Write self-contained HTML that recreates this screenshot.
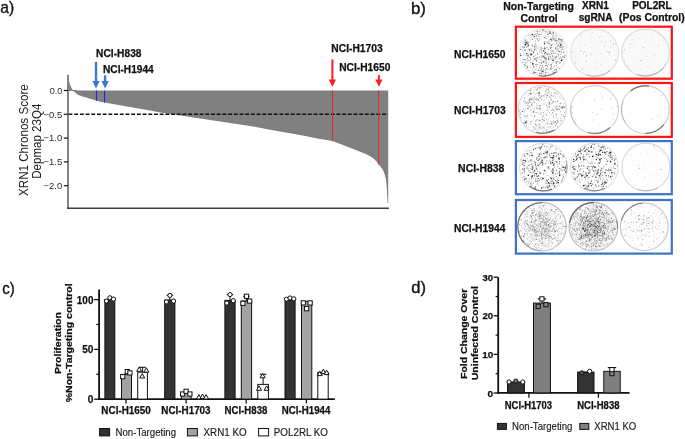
<!DOCTYPE html>
<html><head><meta charset="utf-8"><style>
html,body{margin:0;padding:0;background:#fff;width:685px;height:439px;overflow:hidden}
svg{display:block;will-change:transform;filter:blur(0.3px);font-family:"Liberation Sans",sans-serif}
</style></head><body>
<svg width="685" height="439" viewBox="0 0 685 439">
<rect width="685" height="439" fill="#fff"/>
<text x="0.20" y="13.4" font-size="16.6" font-weight="normal" fill="#111" textLength="13.91" lengthAdjust="spacingAndGlyphs" stroke="#111" stroke-width="0.35">a)</text>
<text x="411.01" y="13.6" font-size="16.6" font-weight="normal" fill="#111" textLength="14.98" lengthAdjust="spacingAndGlyphs" stroke="#111" stroke-width="0.35">b)</text>
<text x="2.32" y="293.8" font-size="16.6" font-weight="normal" fill="#111" textLength="12.52" lengthAdjust="spacingAndGlyphs" stroke="#111" stroke-width="0.35">c)</text>
<text x="411.24" y="292.9" font-size="16.6" font-weight="normal" fill="#111" textLength="14.73" lengthAdjust="spacingAndGlyphs" stroke="#111" stroke-width="0.35">d)</text>
<polygon points="68.9,90.5 68.9,80.8 69.8,83.5 70.8,86.6 72.0,88.9 72.9,90.1 73.4,90.6 74.6,91.9 76.3,93.5 78.5,95.0 81.1,96.0 84.0,96.9 86.6,97.6 89.3,98.5 92.7,99.6 96.5,100.8 100.0,101.7 104.5,102.6 110.0,103.6 120.0,105.2 130.0,106.9 140.0,108.7 150.0,110.6 160.0,112.4 170.0,113.9 180.0,115.6 190.0,117.0 200.0,118.6 210.0,120.1 220.0,121.5 230.0,122.9 240.0,124.4 250.0,126.0 260.0,127.8 270.0,129.7 280.0,131.4 290.0,133.2 300.0,135.1 310.0,137.1 320.0,138.9 332.5,141.1 342.3,144.8 354.6,149.5 362.0,152.4 366.9,154.5 371.0,156.8 374.1,159.0 376.5,161.5 378.6,164.4 380.5,166.5 382.3,169.0 383.8,171.8 385.0,175.4 385.8,178.5 386.4,183.6 386.9,190.0 387.3,198.0 387.6,203.5 388.2,203.5 388.2,90.5" fill="#808080"/>
<rect x="68.9" y="90.0" width="8" height="1.0" fill="#808080"/>
<line x1="68.5" y1="114.3" x2="388" y2="114.3" stroke="#111" stroke-width="1.6" stroke-dasharray="3.9 1.8"/>
<line x1="96.5" y1="90.5" x2="96.5" y2="100.8" stroke="#2424e6" stroke-width="1.1"/>
<line x1="104.5" y1="90.5" x2="104.5" y2="102.6" stroke="#2424e6" stroke-width="1.1"/>
<line x1="332.5" y1="90.5" x2="332.5" y2="141.1" stroke="#e42a2a" stroke-width="1.1"/>
<line x1="378.6" y1="90.5" x2="378.6" y2="164.4" stroke="#e42a2a" stroke-width="1.1"/>
<line x1="68" y1="74.7" x2="68" y2="209" stroke="#6e6e6e" stroke-width="1.7"/>
<line x1="67.2" y1="208.3" x2="388.8" y2="208.3" stroke="#3c3c3c" stroke-width="1.6"/>
<line x1="63.8" y1="90.5" x2="68" y2="90.5" stroke="#111" stroke-width="1.2"/>
<text x="49.64" y="93.7" font-size="9.2" font-weight="normal" fill="#2a2a2a" textLength="12.52" lengthAdjust="spacingAndGlyphs">0.0</text>
<line x1="63.8" y1="114.3" x2="68" y2="114.3" stroke="#111" stroke-width="1.2"/>
<text x="43.43" y="117.5" font-size="9.2" font-weight="normal" fill="#2a2a2a" textLength="18.75" lengthAdjust="spacingAndGlyphs">−0.5</text>
<line x1="63.8" y1="138.1" x2="68" y2="138.1" stroke="#111" stroke-width="1.2"/>
<text x="43.43" y="141.3" font-size="9.2" font-weight="normal" fill="#2a2a2a" textLength="18.75" lengthAdjust="spacingAndGlyphs">−1.0</text>
<line x1="63.8" y1="161.9" x2="68" y2="161.9" stroke="#111" stroke-width="1.2"/>
<text x="43.43" y="165.1" font-size="9.2" font-weight="normal" fill="#2a2a2a" textLength="18.75" lengthAdjust="spacingAndGlyphs">−1.5</text>
<line x1="63.8" y1="185.7" x2="68" y2="185.7" stroke="#111" stroke-width="1.2"/>
<text x="43.43" y="188.9" font-size="9.2" font-weight="normal" fill="#2a2a2a" textLength="18.75" lengthAdjust="spacingAndGlyphs">−2.0</text>
<text transform="translate(27.8,195.99) rotate(-90)" font-size="12.6" font-weight="normal" fill="#1a1a1a" textLength="111.72" lengthAdjust="spacingAndGlyphs">XRN1 Chronos Score</text>
<text transform="translate(40.9,178.72) rotate(-90)" font-size="12.6" font-weight="normal" fill="#1a1a1a" textLength="75.06" lengthAdjust="spacingAndGlyphs">Depmap 23Q4</text>
<rect x="94.80" y="61.9" width="2.4" height="19.60" fill="#3a7ad4"/>
<polygon points="92.30,81.0 99.70,81.0 96.00,88.6" fill="#3a7ad4"/>
<rect x="103.90" y="75.3" width="2.4" height="6.20" fill="#3a7ad4"/>
<polygon points="101.40,81.0 108.80,81.0 105.10,88.6" fill="#3a7ad4"/>
<rect x="331.40" y="59.5" width="2.0" height="20.40" fill="#ff1e1e"/>
<polygon points="328.70,79.4 336.10,79.4 332.40,86.8" fill="#ff1e1e"/>
<rect x="377.90" y="75.1" width="2.0" height="4.80" fill="#ff1e1e"/>
<polygon points="375.20,79.4 382.60,79.4 378.90,86.8" fill="#ff1e1e"/>
<text x="96.14" y="57.4" font-size="10.1" font-weight="bold" fill="#111" textLength="45.38" lengthAdjust="spacingAndGlyphs" stroke="#111" stroke-width="0.25">NCI-H838</text>
<text x="103.04" y="73.0" font-size="10.1" font-weight="bold" fill="#111" textLength="50.63" lengthAdjust="spacingAndGlyphs" stroke="#111" stroke-width="0.25">NCI-H1944</text>
<text x="331.33" y="51.6" font-size="10.1" font-weight="bold" fill="#111" textLength="51.35" lengthAdjust="spacingAndGlyphs" stroke="#111" stroke-width="0.25">NCI-H1703</text>
<text x="339.24" y="71.1" font-size="10.1" font-weight="bold" fill="#111" textLength="51.09" lengthAdjust="spacingAndGlyphs" stroke="#111" stroke-width="0.25">NCI-H1650</text>
<text x="503.32" y="10.0" font-size="10.3" font-weight="bold" fill="#111" textLength="70.44" lengthAdjust="spacingAndGlyphs" stroke="#111" stroke-width="0.25">Non-Targeting</text>
<text x="520.48" y="21.7" font-size="10.3" font-weight="bold" fill="#111" textLength="37.30" lengthAdjust="spacingAndGlyphs" stroke="#111" stroke-width="0.25">Control</text>
<text x="582.10" y="8.9" font-size="10.3" font-weight="bold" fill="#111" textLength="26.88" lengthAdjust="spacingAndGlyphs" stroke="#111" stroke-width="0.25">XRN1</text>
<text x="578.64" y="20.9" font-size="10.3" font-weight="bold" fill="#111" textLength="33.95" lengthAdjust="spacingAndGlyphs" stroke="#111" stroke-width="0.25">sgRNA</text>
<text x="632.15" y="8.9" font-size="10.3" font-weight="bold" fill="#111" textLength="39.55" lengthAdjust="spacingAndGlyphs" stroke="#111" stroke-width="0.25">POL2RL</text>
<text x="619.08" y="20.9" font-size="10.3" font-weight="bold" fill="#111" textLength="65.61" lengthAdjust="spacingAndGlyphs" stroke="#111" stroke-width="0.25">(Pos Control)</text>
<text x="454.03" y="57.8" font-size="10.2" font-weight="bold" fill="#111" textLength="51.50" lengthAdjust="spacingAndGlyphs" stroke="#111" stroke-width="0.25">NCI-H1650</text>
<text x="454.03" y="114.1" font-size="10.2" font-weight="bold" fill="#111" textLength="51.65" lengthAdjust="spacingAndGlyphs" stroke="#111" stroke-width="0.25">NCI-H1703</text>
<text x="458.12" y="171.6" font-size="10.2" font-weight="bold" fill="#111" textLength="46.30" lengthAdjust="spacingAndGlyphs" stroke="#111" stroke-width="0.25">NCI-H838</text>
<text x="454.03" y="232.3" font-size="10.2" font-weight="bold" fill="#111" textLength="51.34" lengthAdjust="spacingAndGlyphs" stroke="#111" stroke-width="0.25">NCI-H1944</text>
<defs><filter id="bl" x="-10%" y="-10%" width="120%" height="120%"><feGaussianBlur stdDeviation="0.35"/></filter><filter id="bl2" x="-10%" y="-10%" width="120%" height="120%"><feGaussianBlur stdDeviation="0.6"/></filter></defs>
<circle cx="563.3" cy="115.6" r="1.4" fill="#111" filter="url(#bl)"/>
<circle cx="543.2" cy="52.6" r="23.8" fill="rgb(252,252,252)" stroke="rgba(0,0,0,0.08)" stroke-width="1.2"/>
<g filter="url(#bl2)"><path d="M556.68,71.85 A23.5,23.5 0 0 1 539.12,75.74" fill="none" stroke="rgba(0,0,0,0.5)" stroke-width="1.2" stroke-linecap="round"/></g>
<g filter="url(#bl)" stroke="#000" stroke-linecap="round" fill="none"><path d="M545.3 63.4h0M530.9 71.7h0M542.6 71.9h0M523.4 59.6h0M536.4 70.5h0" stroke-width="0.40" stroke-opacity="0.2"/><path d="M546.5 41.8h0M523.2 50.0h0M560.1 59.2h0M532.0 70.1h0M552.6 57.9h0M555.2 70.1h0M553.3 60.6h0M534.4 56.6h0M564.8 48.6h0M530.7 37.4h0M547.6 33.2h0M547.9 42.7h0M529.0 35.1h0M549.7 54.0h0M543.6 67.5h0M553.8 33.7h0M533.2 72.0h0M536.3 50.2h0M553.3 37.4h0M554.7 44.1h0M541.7 63.9h0M527.4 57.9h0M551.5 62.9h0M524.4 42.6h0M540.1 46.3h0M530.5 35.9h0M542.0 36.8h0M555.2 58.6h0M527.2 39.8h0M560.2 57.6h0M547.4 31.9h0M565.0 57.1h0M537.1 70.1h0M560.4 47.6h0M545.0 52.4h0M549.6 43.7h0M546.8 73.2h0M537.2 58.8h0M525.8 42.3h0M559.0 62.3h0M554.9 57.5h0M543.7 48.4h0M548.5 73.7h0M528.2 48.7h0M547.4 54.8h0M555.0 40.6h0" stroke-width="0.40" stroke-opacity="0.4"/><path d="M558.6 67.2h0M547.0 53.7h0M528.0 46.4h0M537.9 70.5h0M562.2 44.0h0M558.5 44.8h0M544.9 60.0h0M542.1 71.2h0M528.4 44.6h0M548.7 42.4h0M540.9 62.7h0M552.7 60.3h0M560.0 45.6h0M535.1 31.9h0M522.6 49.6h0M552.4 51.0h0M524.6 40.7h0M524.2 62.4h0M562.6 42.3h0M559.1 46.9h0M526.5 49.9h0M560.7 39.1h0M555.7 34.5h0M539.8 37.0h0M540.7 75.0h0M525.5 49.5h0M545.3 61.9h0M541.0 70.2h0M562.7 41.8h0M555.9 41.1h0M544.5 73.1h0M535.0 47.7h0M544.1 42.4h0M557.5 67.7h0M557.6 46.3h0M549.0 30.5h0M556.2 39.3h0M538.0 47.4h0M536.5 38.3h0M551.1 52.1h0M539.4 65.9h0M552.0 59.2h0M537.3 60.8h0M545.5 58.1h0M527.5 46.1h0M534.2 50.2h0M533.7 53.2h0M541.6 49.7h0M536.3 50.9h0M555.6 44.9h0M521.3 47.3h0M550.7 54.7h0M541.1 60.5h0M543.2 74.0h0M555.7 53.0h0" stroke-width="0.40" stroke-opacity="0.6"/><path d="M533.8 52.5h0M554.1 38.8h0M551.1 39.2h0M542.2 53.5h0M543.0 72.4h0M546.0 60.4h0M562.3 40.3h0M565.6 55.7h0M554.0 56.7h0M540.1 59.4h0M557.0 43.0h0M528.1 45.9h0M550.4 64.2h0M541.4 34.2h0M533.8 37.7h0M524.4 49.9h0M539.6 70.1h0M555.9 52.0h0" stroke-width="0.40" stroke-opacity="0.8"/><path d="M561.3 39.7h0M533.5 34.0h0M543.0 67.3h0M550.5 48.0h0M535.7 41.3h0M556.1 41.2h0M539.4 30.5h0M550.5 48.8h0M543.3 67.5h0M551.9 33.9h0M532.3 51.0h0" stroke-width="0.70" stroke-opacity="0.2"/><path d="M558.8 46.3h0M532.5 39.3h0M546.4 57.7h0M546.9 65.5h0M532.5 69.7h0M542.0 50.4h0M564.0 57.9h0M539.7 57.1h0M539.7 74.2h0M536.8 47.9h0M543.3 65.0h0M528.7 45.5h0M530.0 65.4h0M551.2 34.2h0M522.7 46.7h0M553.1 60.4h0M528.8 53.1h0M556.6 35.3h0M523.9 41.3h0M558.6 50.6h0M557.5 43.1h0M524.5 64.8h0M561.4 52.0h0M538.4 58.8h0M525.3 41.3h0M564.7 51.5h0M522.4 46.6h0M553.8 66.9h0M536.4 36.9h0M558.7 61.7h0M547.3 54.8h0M548.2 53.6h0M529.0 35.7h0M539.7 31.9h0M550.9 47.9h0M558.4 56.3h0M534.7 52.2h0M553.3 71.6h0M552.7 71.2h0M554.1 61.5h0M548.7 34.8h0M553.6 32.6h0M531.4 55.0h0M523.3 47.8h0M544.6 46.4h0M534.9 60.2h0M563.9 48.3h0M550.5 47.7h0M536.0 68.6h0M560.5 56.8h0M541.9 59.1h0M535.4 55.6h0M541.7 56.1h0M530.9 53.3h0M542.2 32.8h0M531.9 45.5h0M530.9 39.5h0M527.8 43.7h0M542.9 31.3h0M554.9 37.0h0M534.9 67.1h0M531.4 48.7h0M550.6 50.3h0M543.9 30.6h0M548.8 74.3h0M527.5 51.4h0M544.9 58.6h0M556.3 56.8h0M542.0 55.4h0M554.5 65.5h0M529.5 60.6h0M542.9 73.5h0M529.7 41.7h0M532.2 46.5h0M526.4 59.7h0M541.2 60.6h0M535.7 36.8h0M549.1 46.0h0M556.6 62.1h0M543.2 37.2h0M538.1 48.4h0M549.1 62.1h0M546.7 53.8h0M525.9 55.4h0" stroke-width="0.70" stroke-opacity="0.4"/><path d="M545.0 31.6h0M538.3 36.4h0M523.9 43.5h0M558.4 55.3h0M552.0 59.8h0M536.5 66.5h0M545.0 55.0h0M546.0 68.8h0M536.8 31.0h0M551.2 47.6h0M560.2 47.6h0M556.0 61.9h0M545.5 52.3h0M553.1 58.1h0M537.3 38.7h0M534.0 58.3h0M554.7 70.6h0M550.9 68.0h0M540.9 50.2h0M546.2 38.5h0M553.5 33.8h0M558.9 40.9h0M545.2 70.3h0M530.8 67.4h0M533.4 67.6h0M552.8 62.9h0M558.5 51.5h0M537.0 64.7h0M556.0 47.7h0M551.2 41.3h0M563.8 52.4h0M552.7 44.4h0M531.6 51.6h0M541.5 63.4h0M541.2 71.5h0M558.8 58.6h0M548.4 58.9h0M543.2 61.1h0M535.3 41.1h0M527.7 66.8h0M524.7 64.6h0M561.7 52.1h0M532.5 63.2h0M547.2 34.5h0M545.5 36.7h0M559.9 42.4h0M537.2 34.1h0M543.4 69.3h0M532.4 39.3h0M560.8 51.1h0M537.4 39.7h0M529.1 70.4h0M546.2 63.5h0M557.8 48.5h0M527.4 43.5h0M560.4 62.7h0M530.1 58.0h0M544.2 42.9h0M555.2 40.5h0M551.2 45.8h0M542.1 57.2h0M558.5 39.2h0M555.1 40.2h0M550.6 56.6h0M556.5 49.4h0M537.0 74.0h0M536.6 61.0h0M562.3 57.3h0M559.8 43.1h0M559.8 58.2h0M528.8 56.5h0M562.9 59.6h0M540.2 34.6h0M522.7 62.1h0M527.2 44.6h0M539.4 50.0h0M527.2 62.2h0M553.2 33.5h0M523.3 59.6h0M556.3 63.7h0M525.7 45.3h0M562.8 56.9h0M533.9 71.7h0M563.4 52.8h0M554.8 69.2h0M544.5 49.0h0M549.1 54.3h0M537.0 33.3h0M547.1 52.9h0M564.8 55.7h0M551.0 57.4h0" stroke-width="0.70" stroke-opacity="0.6"/><path d="M553.9 39.7h0M530.7 59.4h0M535.0 46.2h0M546.3 69.2h0M547.3 54.6h0M544.8 43.2h0M551.6 66.7h0M541.2 70.6h0M550.9 65.5h0M548.0 34.3h0M545.5 65.5h0M542.0 48.5h0M532.3 45.3h0M525.5 65.5h0M532.5 64.0h0M546.8 47.6h0M526.6 47.2h0M558.7 44.9h0M544.9 41.6h0M547.5 66.2h0M557.4 61.4h0M563.0 47.1h0M537.5 31.6h0M536.7 60.4h0M546.1 65.3h0M546.2 58.1h0M561.6 47.8h0M561.8 41.8h0M529.9 57.6h0M547.3 42.5h0M549.0 41.1h0M534.7 46.9h0M539.7 38.9h0M551.9 40.4h0M528.2 60.6h0M541.8 62.8h0M520.7 53.7h0M546.6 62.0h0M551.4 39.2h0M530.8 62.4h0" stroke-width="0.70" stroke-opacity="0.8"/><path d="M560.1 63.9h0M549.8 56.8h0M538.7 40.9h0M539.0 31.5h0" stroke-width="1.00" stroke-opacity="0.2"/><path d="M545.1 48.6h0M560.4 40.0h0M537.9 64.5h0M543.3 55.9h0M551.1 45.8h0M563.8 56.6h0M531.7 50.7h0M544.6 47.9h0M535.6 34.4h0M539.8 57.1h0M539.7 52.1h0M531.2 35.8h0M561.7 58.6h0M526.9 53.9h0M523.6 54.9h0M556.7 43.5h0M554.3 53.5h0M560.4 54.2h0M550.8 59.3h0M549.4 70.0h0M557.7 54.1h0M547.1 72.1h0M556.8 65.3h0M558.1 38.1h0M558.8 54.3h0M555.8 38.7h0M554.9 38.3h0M559.5 68.5h0M548.8 64.5h0M546.7 31.1h0M548.3 36.3h0M550.1 55.0h0M529.2 49.4h0M535.3 70.1h0M527.9 46.0h0M546.0 32.2h0M557.5 50.0h0M556.2 36.1h0M524.0 59.4h0M534.9 46.0h0M541.0 47.2h0" stroke-width="1.00" stroke-opacity="0.4"/><path d="M544.4 37.6h0M533.3 56.7h0M556.2 40.8h0M541.3 68.0h0M543.6 50.9h0M530.1 49.4h0M538.6 70.2h0M553.2 39.1h0M541.3 52.2h0M538.7 40.7h0M541.0 47.9h0M544.6 44.2h0M526.4 53.6h0M529.8 50.2h0M536.3 46.1h0M527.6 55.9h0M550.8 48.0h0M527.6 58.4h0M529.4 50.8h0M535.3 44.0h0M531.2 54.1h0M534.2 34.4h0M537.6 57.5h0M535.1 49.0h0M539.3 67.7h0M539.5 73.4h0M541.2 73.2h0M562.8 46.5h0M528.1 55.4h0M560.3 44.0h0M554.1 59.2h0M527.1 66.5h0M551.9 68.8h0M539.1 62.7h0M552.3 37.9h0M550.8 39.3h0M553.6 72.5h0M553.1 51.1h0M557.4 46.0h0M540.8 65.3h0M534.5 59.1h0M551.5 64.6h0M543.7 29.9h0M555.6 57.9h0M520.7 49.4h0M525.7 62.9h0M541.2 69.2h0M536.3 35.7h0M556.1 62.9h0M557.1 40.6h0M544.9 57.1h0" stroke-width="1.00" stroke-opacity="0.6"/><path d="M549.2 33.1h0M535.8 72.7h0M548.1 49.6h0M539.0 34.6h0M546.0 59.3h0M550.3 33.5h0M553.0 35.8h0M533.7 66.3h0M550.6 68.7h0M549.0 43.7h0M544.7 43.6h0M534.6 36.5h0M544.3 57.3h0M561.7 60.5h0M559.3 51.6h0M553.1 32.3h0M552.7 56.0h0M545.2 58.5h0M542.3 29.9h0M544.7 53.7h0M548.6 59.6h0M562.1 49.4h0M527.1 53.7h0M525.1 60.0h0M548.8 57.0h0M537.6 54.0h0M541.2 73.6h0M545.8 72.7h0M528.0 42.3h0M527.0 41.8h0" stroke-width="1.00" stroke-opacity="0.8"/><path d="M528.5 55.0h0" stroke-width="1.30" stroke-opacity="0.2"/><path d="M535.8 64.3h0M542.5 65.9h0M564.4 57.4h0M559.4 63.1h0M555.5 48.5h0M525.1 50.4h0M555.4 48.0h0M552.1 50.9h0M547.8 68.9h0M551.7 53.5h0M553.3 53.1h0" stroke-width="1.30" stroke-opacity="0.4"/><path d="M550.4 39.6h0M545.4 75.2h0M550.4 32.1h0M528.5 45.0h0M525.6 40.1h0M525.6 42.3h0M545.3 52.5h0M534.6 72.4h0M551.1 44.9h0M533.5 52.0h0M549.7 31.9h0M534.4 49.6h0" stroke-width="1.30" stroke-opacity="0.6"/><path d="M524.2 47.1h0M520.8 55.5h0M531.8 54.1h0M556.2 69.6h0M556.2 56.8h0M525.3 44.5h0M533.3 73.1h0M553.0 60.4h0M561.3 39.8h0M559.2 39.1h0" stroke-width="1.30" stroke-opacity="0.8"/><path d="M533.9 36.1h0" stroke-width="1.60" stroke-opacity="0.2"/><path d="M527.5 67.7h0M560.3 45.9h0M548.7 58.7h0M545.2 48.4h0" stroke-width="1.60" stroke-opacity="0.4"/><path d="M543.7 61.9h0M543.8 51.0h0M543.1 56.7h0M535.9 58.8h0" stroke-width="1.60" stroke-opacity="0.6"/><path d="M542.9 71.3h0M525.5 44.8h0M560.9 44.9h0M532.2 34.6h0M561.6 60.4h0M530.9 54.6h0M532.9 63.9h0M526.4 43.0h0" stroke-width="1.60" stroke-opacity="0.8"/></g>
<circle cx="594.6" cy="52.6" r="24.0" fill="rgb(249,249,249)" stroke="rgba(0,0,0,0.1)" stroke-width="1.2"/>
<g filter="url(#bl2)"><path d="M609.83,70.76 A23.7,23.7 0 0 1 586.49,74.87" fill="none" stroke="rgba(0,0,0,0.22)" stroke-width="1.0" stroke-linecap="round"/></g>
<g filter="url(#bl)" stroke="#000" stroke-linecap="round" fill="none"><path d="M597.4 68.4h0M575.2 52.1h0M591.4 48.0h0M611.5 65.9h0M603.3 54.6h0M584.3 58.0h0M576.6 60.6h0M590.1 55.2h0M581.5 60.8h0M601.7 71.3h0M605.0 62.6h0M589.3 42.9h0" stroke-width="0.40" stroke-opacity="0.2"/><path d="M586.3 56.5h0M580.4 46.1h0M594.5 68.0h0M588.8 67.2h0M610.7 47.4h0" stroke-width="0.40" stroke-opacity="0.4"/><path d="M575.7 57.3h0M597.3 46.9h0M614.1 55.2h0M598.3 61.0h0M609.6 65.6h0M575.5 55.9h0M591.2 32.6h0M599.3 37.7h0M608.5 70.9h0M580.9 34.2h0M591.0 36.4h0M578.2 54.4h0" stroke-width="0.70" stroke-opacity="0.2"/><path d="M590.9 53.4h0M592.6 32.1h0M572.4 52.5h0M584.1 51.8h0M575.5 62.7h0M601.1 64.8h0M610.8 41.2h0M600.0 53.7h0M615.5 43.4h0M580.8 50.9h0M606.9 51.3h0M601.5 41.9h0M586.0 61.4h0M583.5 53.4h0" stroke-width="0.70" stroke-opacity="0.4"/><path d="M584.5 44.7h0M578.6 58.4h0M596.1 69.8h0M586.1 52.1h0M604.7 46.3h0M605.5 41.7h0M580.2 51.3h0M591.0 55.0h0M595.7 62.4h0M581.2 36.1h0M601.9 36.5h0" stroke-width="1.00" stroke-opacity="0.2"/><path d="M615.6 60.4h0M613.4 44.0h0M586.4 55.8h0" stroke-width="1.00" stroke-opacity="0.4"/><path d="M609.4 54.3h0" stroke-width="1.30" stroke-opacity="0.2"/><path d="M609.2 52.2h0" stroke-width="1.30" stroke-opacity="0.4"/><path d="M582.2 68.9h0" stroke-width="1.60" stroke-opacity="0.2"/></g>
<circle cx="645.5" cy="52.6" r="23.8" fill="rgb(249,249,249)" stroke="rgba(0,0,0,0.12)" stroke-width="1.2"/>
<g filter="url(#bl2)"><path d="M663.50,67.71 A23.5,23.5 0 0 1 637.46,74.68" fill="none" stroke="rgba(0,0,0,0.25)" stroke-width="1.0" stroke-linecap="round"/></g>
<g filter="url(#bl)" stroke="#000" stroke-linecap="round" fill="none"><path d="M634.0 64.9h0M644.3 73.5h0M653.6 39.2h0M645.8 46.8h0M650.2 58.0h0M650.7 43.5h0M644.5 47.9h0M631.9 56.1h0M629.1 46.2h0M647.0 71.9h0M649.8 62.9h0M642.3 59.2h0M647.4 65.8h0" stroke-width="0.40" stroke-opacity="0.2"/><path d="M642.4 37.2h0M638.8 38.5h0" stroke-width="0.40" stroke-opacity="0.4"/><path d="M634.9 41.8h0M664.0 40.0h0M643.1 61.1h0M646.8 56.4h0M633.4 39.4h0M632.6 44.1h0M642.1 51.0h0M651.8 35.4h0M638.7 62.4h0M645.2 41.8h0" stroke-width="0.70" stroke-opacity="0.2"/><path d="M624.4 49.5h0M628.2 66.0h0M664.8 64.6h0M654.2 55.0h0M658.3 45.6h0M624.7 61.7h0" stroke-width="0.70" stroke-opacity="0.4"/><path d="M659.1 35.3h0M622.9 51.8h0M629.8 47.7h0M640.0 69.4h0M647.9 67.8h0M654.0 71.7h0" stroke-width="1.00" stroke-opacity="0.2"/><path d="M630.4 43.8h0M643.0 47.6h0M640.6 60.6h0" stroke-width="1.00" stroke-opacity="0.4"/></g>
<circle cx="542.3" cy="109.6" r="24.0" fill="rgb(252,252,252)" stroke="rgba(0,0,0,0.14)" stroke-width="1.2"/>
<g filter="url(#bl2)"><path d="M554.15,130.12 A23.7,23.7 0 0 1 536.17,132.49" fill="none" stroke="rgba(0,0,0,0.45)" stroke-width="1.3" stroke-linecap="round"/></g>
<g filter="url(#bl)" stroke="#000" stroke-linecap="round" fill="none"><path d="M547.1 113.4h0M530.1 100.6h0M559.3 106.0h0M560.0 119.9h0M545.2 125.5h0M549.3 116.0h0M533.4 103.1h0" stroke-width="0.40" stroke-opacity="0.2"/><path d="M551.2 104.0h0M552.6 110.7h0M544.8 114.7h0M540.9 119.3h0M561.6 102.5h0M544.1 104.1h0M532.2 107.7h0M552.3 96.1h0M559.3 97.7h0M551.2 128.8h0M524.3 103.7h0M545.2 102.2h0M546.6 98.7h0M536.2 107.0h0M529.2 124.2h0M537.1 121.2h0M542.5 131.4h0M548.6 91.2h0M543.6 131.4h0M548.5 110.9h0M552.1 121.9h0M544.6 127.1h0M530.5 123.9h0M533.8 90.2h0M551.2 110.6h0M545.3 113.0h0M562.9 105.5h0M556.9 124.2h0M539.1 101.8h0M538.7 108.6h0M562.3 107.2h0M549.3 107.4h0M546.6 131.8h0M553.5 97.0h0M558.8 117.8h0M533.4 100.2h0M524.3 113.1h0" stroke-width="0.40" stroke-opacity="0.4"/><path d="M557.6 101.7h0M529.5 91.0h0M554.6 90.2h0M557.3 105.7h0M547.9 120.7h0M529.1 127.3h0M555.7 94.1h0M543.5 116.2h0M536.6 108.2h0M558.6 107.8h0M535.0 89.3h0M531.0 90.2h0M559.7 109.1h0M547.5 107.7h0M538.5 87.6h0M537.5 98.6h0M541.9 96.1h0M531.8 130.0h0M526.4 122.0h0M549.1 96.5h0M563.3 103.9h0M560.9 98.5h0M552.6 122.3h0M556.9 124.0h0M531.3 112.3h0M555.7 98.0h0M551.0 121.8h0M531.0 110.1h0M553.6 127.2h0M538.3 95.2h0M548.4 131.7h0M551.2 121.3h0M524.8 120.9h0M541.7 95.3h0M560.8 121.1h0" stroke-width="0.40" stroke-opacity="0.6"/><path d="M528.2 107.1h0" stroke-width="0.40" stroke-opacity="0.8"/><path d="M553.0 116.4h0M544.0 98.0h0M527.8 104.8h0M543.8 101.5h0M541.1 129.2h0M562.9 99.4h0M533.0 108.9h0M535.2 107.7h0M526.6 123.3h0M538.4 120.2h0M542.3 110.2h0M525.9 106.4h0M532.6 120.7h0M522.2 107.2h0M539.4 120.2h0M550.2 123.4h0M548.6 88.6h0M548.7 128.2h0" stroke-width="0.70" stroke-opacity="0.2"/><path d="M539.5 109.1h0M523.9 109.6h0M545.6 91.6h0M555.3 106.6h0M543.9 104.2h0M545.8 124.1h0M535.4 129.1h0M526.5 118.1h0M539.4 88.2h0M524.6 111.7h0M547.9 127.7h0M529.9 102.5h0M533.3 112.5h0M538.9 106.0h0M552.0 110.3h0M548.5 106.8h0M555.9 92.3h0M527.3 102.2h0M523.3 101.7h0M527.3 102.7h0M520.5 114.9h0M541.5 87.6h0M556.2 114.2h0M550.0 123.4h0M558.0 106.9h0M536.7 104.1h0M540.3 97.1h0M554.4 111.3h0M526.0 125.8h0M538.4 124.1h0M545.3 91.3h0M528.8 101.7h0M549.3 94.0h0M553.5 110.4h0M537.6 89.6h0M550.3 101.0h0M553.2 89.7h0M532.0 105.2h0M549.3 87.8h0M541.5 128.4h0M551.2 114.7h0M531.7 102.6h0M519.9 113.5h0M548.9 126.7h0M539.2 97.2h0M542.2 121.9h0M520.1 109.6h0M546.7 93.2h0M533.0 100.7h0M557.3 118.9h0M561.6 114.5h0M544.2 86.7h0M555.6 108.0h0M546.7 129.5h0M551.1 124.2h0M537.5 88.0h0M540.5 98.0h0M526.2 120.5h0M557.5 93.0h0M536.1 112.6h0M539.3 125.6h0M556.1 114.5h0M535.1 123.6h0M556.0 107.6h0M544.4 94.3h0M539.2 95.5h0M541.2 114.2h0M546.3 97.4h0M547.6 93.4h0M530.8 110.5h0M546.9 105.9h0M534.9 128.2h0M531.1 124.2h0M535.1 94.2h0M557.4 110.5h0M534.4 96.2h0M552.5 109.3h0M548.9 104.5h0" stroke-width="0.70" stroke-opacity="0.4"/><path d="M531.0 97.6h0M527.7 115.3h0M547.9 124.0h0M549.9 104.7h0M541.6 99.6h0M543.9 132.1h0M553.5 123.2h0M564.7 112.6h0M534.0 127.5h0M540.5 87.8h0M529.9 102.5h0M526.0 116.0h0M547.5 95.4h0M537.2 89.0h0M536.0 125.8h0M526.6 125.0h0M529.2 93.4h0M551.5 95.7h0M550.3 97.8h0M520.7 112.8h0M538.1 99.5h0M544.9 118.4h0M534.5 109.3h0M533.5 99.1h0M537.1 105.9h0M535.4 99.4h0M526.9 122.4h0M547.4 109.2h0M547.0 88.3h0M553.8 117.6h0M543.8 115.8h0M551.0 95.1h0M561.1 120.7h0M544.4 120.8h0M543.3 120.3h0M546.6 119.6h0M539.9 132.4h0M554.2 92.4h0M553.7 115.5h0M560.2 111.7h0M552.1 124.7h0M538.7 93.4h0M557.3 126.7h0M530.1 90.9h0M528.4 103.5h0M539.8 87.9h0M556.0 114.3h0M530.9 90.1h0M545.9 130.0h0M552.7 102.0h0M536.6 100.0h0M540.2 120.8h0M524.8 101.0h0M560.8 118.7h0M551.6 92.9h0M539.2 114.2h0M540.9 112.6h0M525.6 102.2h0M536.3 98.6h0M541.0 126.9h0M528.2 95.1h0M553.5 109.7h0M533.9 129.6h0M530.5 122.2h0M549.8 112.8h0M535.7 121.0h0M549.1 131.6h0M547.5 95.7h0M539.2 127.5h0M539.9 109.2h0M526.4 121.3h0M534.6 97.9h0M524.0 109.0h0M529.5 101.1h0M523.6 122.8h0M519.4 110.9h0M546.3 105.3h0M554.9 93.3h0M544.1 128.8h0M537.2 112.4h0" stroke-width="0.70" stroke-opacity="0.6"/><path d="M557.2 120.5h0M542.4 119.6h0M526.3 103.2h0M539.1 128.2h0M557.8 122.2h0" stroke-width="0.70" stroke-opacity="0.8"/><path d="M530.1 98.9h0M536.7 128.3h0M548.3 118.8h0M548.2 92.9h0M527.1 116.5h0M539.5 101.6h0M553.2 112.5h0" stroke-width="1.00" stroke-opacity="0.2"/><path d="M532.0 105.6h0M548.9 92.2h0M560.3 103.2h0M553.4 120.9h0M556.4 123.3h0M536.5 89.8h0M539.8 95.1h0M542.3 116.8h0M532.0 103.8h0M563.2 114.9h0M539.8 97.9h0M553.3 95.8h0M557.3 121.4h0M537.3 125.8h0M533.1 126.5h0M531.5 104.7h0M525.7 122.1h0M547.1 110.6h0M559.9 96.2h0M544.1 100.2h0M534.6 116.6h0M543.6 112.5h0M527.9 105.5h0M537.0 93.3h0M539.9 124.3h0M557.0 94.0h0M539.4 108.3h0M531.7 121.5h0M520.8 117.6h0M552.0 103.4h0M560.2 103.5h0M556.0 108.7h0M550.4 127.0h0M537.4 130.6h0M533.3 92.7h0" stroke-width="1.00" stroke-opacity="0.4"/><path d="M556.1 105.9h0M543.1 127.2h0M563.9 106.9h0M524.8 116.3h0M535.8 124.4h0M526.6 122.0h0M564.0 106.9h0M555.3 125.4h0M546.0 95.1h0M538.0 100.2h0M556.7 109.6h0M562.3 107.1h0M537.1 108.7h0M547.2 123.1h0M552.6 112.9h0M551.5 123.6h0M546.7 115.0h0M549.9 97.1h0M527.3 108.5h0M561.5 107.4h0M528.2 108.8h0M564.1 107.9h0M546.9 89.9h0M557.7 109.0h0M543.7 95.8h0M530.5 99.1h0M540.0 108.2h0M564.1 116.5h0M529.6 106.6h0M534.4 102.5h0M551.3 99.4h0M534.8 115.9h0M549.6 106.8h0M524.4 98.1h0M553.1 101.5h0" stroke-width="1.00" stroke-opacity="0.6"/><path d="M559.9 106.3h0" stroke-width="1.00" stroke-opacity="0.8"/><path d="M556.1 116.6h0M531.1 115.4h0" stroke-width="1.30" stroke-opacity="0.2"/><path d="M539.6 120.3h0M534.1 112.0h0M546.7 131.3h0M559.1 109.4h0M557.5 101.1h0M555.2 102.2h0M539.5 92.5h0M537.1 119.9h0M541.6 96.3h0M533.5 111.4h0M548.5 89.6h0" stroke-width="1.30" stroke-opacity="0.4"/><path d="M540.2 105.7h0M531.8 99.2h0M522.4 111.4h0" stroke-width="1.30" stroke-opacity="0.6"/><path d="M549.3 103.0h0" stroke-width="1.30" stroke-opacity="0.8"/><path d="M529.4 99.6h0M562.3 107.9h0" stroke-width="1.60" stroke-opacity="0.4"/><path d="M539.2 93.0h0M555.1 122.0h0" stroke-width="1.60" stroke-opacity="0.6"/><path d="M525.3 122.8h0M530.7 93.7h0" stroke-width="1.60" stroke-opacity="0.8"/></g>
<circle cx="594.5" cy="109.6" r="24.0" fill="rgb(254,254,254)" stroke="rgba(0,0,0,0.16)" stroke-width="1.2"/>
<g filter="url(#bl2)"><path d="M609.73,127.76 A23.7,23.7 0 0 1 588.37,132.49" fill="none" stroke="rgba(0,0,0,0.45)" stroke-width="1.2" stroke-linecap="round"/><path d="M576.34,124.83 A23.7,23.7 0 0 1 571.16,105.48" fill="none" stroke="rgba(0,0,0,0.15)" stroke-width="1" stroke-linecap="round"/></g>
<g filter="url(#bl)" stroke="#000" stroke-linecap="round" fill="none"><path d="M604.4 120.8h0M582.2 101.1h0M600.6 94.3h0M575.6 118.5h0M596.0 97.8h0M584.4 124.0h0" stroke-width="0.40" stroke-opacity="0.2"/><path d="M606.0 124.4h0M577.9 112.0h0M573.3 101.2h0M581.9 101.7h0" stroke-width="0.40" stroke-opacity="0.4"/><path d="M585.1 93.4h0M586.9 90.3h0M589.4 96.7h0M610.7 121.8h0M598.5 124.7h0" stroke-width="0.70" stroke-opacity="0.2"/><path d="M613.1 119.0h0M602.5 97.3h0M601.4 109.0h0M616.9 106.2h0M613.2 114.0h0M572.1 112.3h0M594.4 99.6h0M612.5 107.8h0M592.9 112.8h0M612.2 95.8h0M572.2 107.5h0M592.2 120.0h0" stroke-width="0.70" stroke-opacity="0.4"/><path d="M575.5 120.0h0" stroke-width="1.00" stroke-opacity="0.2"/><path d="M597.0 114.2h0M610.5 98.6h0" stroke-width="1.00" stroke-opacity="0.4"/></g>
<circle cx="645.3" cy="109.6" r="24.0" fill="rgb(254,254,254)" stroke="rgba(0,0,0,0.18)" stroke-width="1.2"/>
<g filter="url(#bl2)"><path d="M631.04,90.67 A23.7,23.7 0 0 1 648.60,86.13" fill="none" stroke="rgba(0,0,0,0.5)" stroke-width="1.3" stroke-linecap="round"/><path d="M663.46,124.83 A23.7,23.7 0 0 1 646.13,133.29" fill="none" stroke="rgba(0,0,0,0.45)" stroke-width="1.2" stroke-linecap="round"/><path d="M624.78,121.45 A23.7,23.7 0 0 1 623.03,101.49" fill="none" stroke="rgba(0,0,0,0.15)" stroke-width="1" stroke-linecap="round"/></g>
<g filter="url(#bl)" stroke="#000" stroke-linecap="round" fill="none"><path d="M644.2 98.7h0M642.3 119.8h0M635.4 121.0h0M658.5 124.5h0M645.0 126.3h0M655.2 120.2h0" stroke-width="0.40" stroke-opacity="0.2"/><path d="M624.1 111.4h0" stroke-width="0.40" stroke-opacity="0.4"/><path d="M637.6 92.1h0M642.5 95.5h0M631.8 93.4h0" stroke-width="0.70" stroke-opacity="0.2"/><path d="M652.6 119.2h0M654.8 91.3h0M665.8 107.8h0M657.8 115.8h0M661.5 95.5h0" stroke-width="0.70" stroke-opacity="0.4"/></g>
<circle cx="543.5" cy="167.1" r="24.0" fill="rgb(253,253,253)" stroke="rgba(0,0,0,0.1)" stroke-width="1.2"/>
<g filter="url(#bl2)"><path d="M551.61,189.37 A23.7,23.7 0 0 1 529.91,186.51" fill="none" stroke="rgba(0,0,0,0.5)" stroke-width="1.3" stroke-linecap="round"/><path d="M566.39,160.97 A23.7,23.7 0 0 1 566.39,173.23" fill="none" stroke="rgba(0,0,0,0.3)" stroke-width="1" stroke-linecap="round"/></g>
<g filter="url(#bl)" stroke="#000" stroke-linecap="round" fill="none"><path d="M561.4 181.5h0M549.1 169.6h0M551.9 163.2h0M557.0 174.6h0" stroke-width="0.40" stroke-opacity="0.4"/><path d="M530.4 154.8h0M554.9 166.9h0M562.2 164.4h0M549.0 147.5h0M532.0 184.9h0M562.2 167.1h0M546.1 153.8h0M533.2 178.5h0M541.9 160.5h0" stroke-width="0.40" stroke-opacity="0.6"/><path d="M559.3 171.1h0M559.7 163.9h0M539.7 154.8h0M560.2 151.5h0M556.5 148.7h0M526.0 178.0h0M543.4 187.5h0M527.9 150.9h0" stroke-width="0.40" stroke-opacity="0.8"/><path d="M561.2 170.9h0M546.5 163.8h0M556.6 155.2h0M535.5 165.1h0M543.1 186.5h0M544.8 146.3h0M551.1 185.7h0M560.8 170.0h0M562.0 158.1h0M562.7 177.2h0M530.9 180.8h0M545.5 171.8h0M543.8 173.8h0M553.2 175.4h0M522.1 172.5h0M540.0 146.7h0M557.1 179.2h0M543.3 161.9h0M553.7 161.3h0M522.6 164.6h0M556.6 150.0h0M554.8 177.6h0M522.2 168.5h0M535.5 164.7h0M547.2 160.6h0M563.8 162.2h0M545.0 152.1h0M563.0 178.0h0" stroke-width="0.70" stroke-opacity="0.4"/><path d="M522.3 173.5h0M557.6 180.8h0M557.8 166.6h0M531.0 164.4h0M553.9 159.6h0M554.8 167.6h0M555.5 174.0h0M556.7 156.9h0M533.0 172.0h0M528.6 161.6h0M554.8 186.9h0M557.6 178.9h0M529.8 160.2h0M563.8 175.1h0M547.2 175.7h0M544.3 146.7h0M536.4 159.6h0M532.2 168.2h0M524.3 156.4h0M527.3 158.5h0M523.1 177.3h0M540.5 152.9h0M529.3 150.5h0M549.6 149.6h0M531.6 184.1h0M552.2 185.3h0M556.3 170.0h0M542.6 163.0h0M549.9 160.6h0M543.5 174.0h0M536.3 166.1h0M555.0 173.9h0M547.4 153.3h0M550.8 163.8h0M555.8 148.9h0" stroke-width="0.70" stroke-opacity="0.6"/><path d="M530.8 152.7h0M547.0 146.6h0M542.9 144.3h0M558.6 153.2h0M558.0 173.2h0M553.9 170.4h0M526.9 181.6h0M542.4 144.7h0M554.7 163.6h0M556.7 161.9h0M565.0 169.5h0M522.1 162.6h0M529.4 155.8h0M546.2 150.2h0M533.5 172.3h0M532.0 164.3h0M541.7 161.9h0M559.3 163.3h0M534.2 161.5h0M522.8 164.4h0M556.1 156.8h0M547.0 154.4h0M524.4 176.8h0M531.6 178.9h0M556.0 161.8h0M537.8 160.6h0M553.4 171.7h0M537.4 176.6h0M545.2 187.4h0M540.3 149.6h0M531.0 186.0h0M542.6 160.5h0M537.6 171.5h0M562.6 179.2h0M557.8 164.3h0M522.0 159.9h0M540.6 163.5h0M553.2 163.4h0M558.1 182.7h0M541.6 153.9h0M552.3 146.1h0M548.3 162.9h0M529.1 181.7h0M563.5 176.7h0M538.2 181.7h0M545.1 152.0h0M556.4 170.6h0M527.5 154.3h0M532.5 167.1h0M542.0 179.4h0M526.4 153.5h0M533.5 183.1h0M560.2 153.6h0M540.7 178.0h0M553.3 165.6h0M547.0 152.7h0M528.1 169.0h0" stroke-width="0.70" stroke-opacity="0.8"/><path d="M527.0 166.6h0M562.9 170.6h0M562.2 154.5h0M524.6 172.5h0M535.2 164.2h0M528.6 183.0h0M552.9 177.3h0M551.0 188.8h0M556.2 152.7h0M538.3 185.1h0M550.6 182.0h0M545.6 181.8h0M547.4 185.5h0M553.4 184.6h0M561.7 165.9h0M530.4 168.4h0M551.1 145.9h0M561.2 174.8h0M559.7 159.1h0M549.3 168.1h0M546.5 161.0h0M540.1 168.0h0M531.5 182.2h0M538.9 165.6h0M554.2 187.0h0M532.1 177.5h0" stroke-width="1.00" stroke-opacity="0.4"/><path d="M552.1 171.1h0M525.2 156.4h0M528.3 165.4h0M532.6 155.3h0M536.3 173.5h0M523.0 163.3h0M548.9 168.4h0M541.1 157.8h0M551.7 181.0h0M529.2 179.1h0M553.6 169.1h0M540.9 147.4h0M524.1 168.7h0M530.0 172.4h0M537.8 180.7h0M542.3 160.1h0M539.3 156.1h0M549.7 154.0h0M538.1 147.3h0M542.8 178.1h0M561.9 170.0h0M529.3 165.0h0M531.7 152.8h0M539.2 159.0h0M559.5 171.5h0M530.8 172.6h0M545.3 163.7h0M525.5 178.4h0M556.2 176.4h0M526.4 178.8h0M535.4 165.1h0" stroke-width="1.00" stroke-opacity="0.6"/><path d="M547.0 186.7h0M551.2 183.6h0M551.9 171.0h0M542.6 165.0h0M553.3 179.0h0M558.6 154.7h0M538.2 176.1h0M549.4 185.2h0M547.0 156.8h0M539.4 180.2h0M541.8 146.5h0M531.5 177.1h0M533.0 167.3h0M543.0 163.8h0M546.2 183.4h0M548.6 179.3h0M539.7 159.2h0M532.0 176.4h0M553.5 153.2h0M524.1 162.8h0M534.6 175.8h0M538.5 175.7h0M525.8 161.4h0M539.3 164.1h0M559.1 159.4h0M563.7 156.3h0M524.4 169.0h0M530.7 161.0h0M559.6 175.6h0M555.6 180.5h0M557.0 181.4h0M549.3 183.2h0M563.0 156.0h0M561.8 180.9h0M558.7 180.6h0M524.4 155.0h0M550.4 163.2h0M529.1 170.8h0M538.3 160.3h0M536.2 168.2h0M550.7 161.7h0M564.6 169.9h0M539.6 148.0h0" stroke-width="1.00" stroke-opacity="0.8"/><path d="M537.3 183.8h0M550.9 147.2h0M547.3 188.0h0M565.0 166.6h0M559.5 172.4h0M556.7 153.9h0M553.7 178.6h0" stroke-width="1.30" stroke-opacity="0.4"/><path d="M552.7 162.3h0M542.1 160.2h0M551.8 153.4h0M559.7 161.6h0M559.4 173.8h0M566.1 165.6h0M548.2 187.5h0M538.6 156.3h0M552.1 181.5h0M560.4 153.8h0M563.9 167.6h0M536.3 176.1h0M535.4 186.9h0M552.6 160.2h0M532.1 166.2h0M559.8 168.4h0M524.3 171.0h0M530.6 183.8h0" stroke-width="1.30" stroke-opacity="0.6"/><path d="M548.2 167.0h0M551.4 178.7h0M553.8 165.0h0M524.7 179.5h0M536.4 174.0h0M542.3 162.3h0M535.1 188.2h0M533.6 149.6h0M565.6 171.9h0M522.9 169.3h0M543.9 153.5h0M549.3 186.3h0M538.2 178.6h0M535.9 181.2h0M527.9 153.8h0M536.8 169.1h0M535.0 173.6h0M541.1 162.1h0M546.4 152.3h0M547.3 180.9h0M550.8 177.8h0M523.2 160.4h0M550.9 157.5h0M556.8 183.1h0M558.3 182.7h0M554.6 185.9h0M538.2 165.2h0" stroke-width="1.30" stroke-opacity="0.8"/><path d="M531.4 159.9h0M556.9 162.0h0M546.6 180.3h0M535.7 179.0h0M527.0 168.0h0M549.5 155.7h0" stroke-width="1.60" stroke-opacity="0.4"/><path d="M553.7 182.7h0M540.8 148.1h0M537.0 158.1h0M539.4 154.1h0M544.1 157.7h0M535.6 148.5h0M524.3 165.8h0M554.9 152.8h0M552.7 169.3h0M545.5 157.0h0M552.3 157.9h0M535.4 162.7h0" stroke-width="1.60" stroke-opacity="0.6"/><path d="M532.4 175.9h0M552.3 162.7h0M543.0 178.6h0M547.5 151.8h0M532.2 169.2h0M553.6 155.8h0M563.1 167.2h0M565.6 167.9h0M552.7 172.9h0M558.9 158.4h0M534.6 170.8h0M559.7 175.2h0M532.0 155.5h0M544.5 170.5h0M553.6 183.4h0M528.3 175.3h0M553.1 157.6h0M553.4 157.8h0M525.1 160.5h0M540.0 173.1h0M541.7 188.1h0M548.5 182.9h0" stroke-width="1.60" stroke-opacity="0.8"/></g>
<circle cx="594.4" cy="167.1" r="24.0" fill="rgb(253,253,253)" stroke="rgba(0,0,0,0.1)" stroke-width="1.2"/>
<g filter="url(#bl2)"><path d="M604.42,188.58 A23.7,23.7 0 0 1 584.38,188.58" fill="none" stroke="rgba(0,0,0,0.45)" stroke-width="1.2" stroke-linecap="round"/></g>
<g filter="url(#bl)" stroke="#000" stroke-linecap="round" fill="none"><path d="M584.0 148.9h0M573.2 165.4h0M591.8 179.9h0M598.8 144.5h0M599.3 166.7h0M590.9 147.7h0M609.7 170.1h0M587.2 160.9h0M600.2 175.7h0M581.1 161.5h0" stroke-width="0.40" stroke-opacity="0.4"/><path d="M591.9 159.6h0M610.3 155.0h0M579.5 179.7h0M603.4 183.7h0M574.9 168.7h0M610.9 157.1h0" stroke-width="0.40" stroke-opacity="0.6"/><path d="M600.3 159.0h0M578.3 164.7h0M578.2 154.0h0M599.3 159.3h0M595.7 152.2h0M585.1 175.0h0M610.6 152.5h0M589.4 185.7h0M606.4 179.4h0M603.4 179.2h0M595.0 166.8h0M603.8 148.2h0M587.0 187.4h0M614.4 171.8h0" stroke-width="0.40" stroke-opacity="0.8"/><path d="M600.1 162.7h0M588.0 179.1h0M590.4 147.5h0M611.8 173.6h0M583.8 169.0h0M588.6 183.7h0M582.8 186.1h0M593.7 158.9h0M608.0 157.8h0M597.2 182.6h0M583.9 163.3h0M611.6 179.3h0M594.6 148.4h0M596.9 186.5h0M611.7 153.5h0M586.1 175.6h0M597.6 175.1h0M580.3 157.1h0M595.8 151.1h0M590.3 151.0h0M575.8 154.4h0M600.3 173.1h0M592.8 169.6h0M590.1 154.8h0M592.8 162.2h0M595.4 166.4h0M615.2 162.7h0M610.8 162.3h0M585.7 179.9h0M611.9 174.4h0M580.5 151.0h0" stroke-width="0.70" stroke-opacity="0.4"/><path d="M610.6 157.7h0M589.2 183.9h0M574.8 170.4h0M595.6 171.1h0M601.2 149.3h0M598.1 172.5h0M601.9 172.5h0M602.7 172.0h0M573.3 173.7h0M588.0 184.2h0M590.3 172.5h0M601.3 186.7h0M574.9 160.2h0M601.3 168.0h0M575.9 166.3h0M595.0 180.2h0M602.1 182.1h0M615.2 164.5h0M602.4 150.8h0M605.2 157.6h0M582.0 179.2h0M614.3 168.6h0M613.0 155.7h0M578.5 174.2h0M586.1 154.4h0M609.5 156.7h0M574.1 168.4h0M598.5 178.5h0M603.5 147.1h0M574.8 172.5h0M606.6 169.9h0M573.8 169.0h0M598.3 181.0h0" stroke-width="0.70" stroke-opacity="0.6"/><path d="M598.1 163.7h0M588.9 150.7h0M608.6 175.9h0M583.6 154.9h0M605.8 154.2h0M585.7 146.4h0M615.6 159.0h0M599.7 154.5h0M604.8 180.8h0M605.5 152.8h0M593.9 174.8h0M599.4 163.3h0M602.8 175.2h0M575.6 154.1h0M594.4 144.4h0M607.3 180.8h0M602.4 184.9h0M604.4 184.5h0M594.7 173.1h0M611.2 168.0h0M600.2 159.7h0M587.1 152.9h0M585.0 184.9h0M575.4 169.4h0M583.7 160.8h0M607.8 160.6h0M578.4 166.8h0M605.1 173.2h0M608.8 175.8h0M575.9 160.4h0M617.3 165.6h0M611.3 157.4h0M586.3 149.7h0M603.7 166.7h0M598.0 172.7h0M597.8 172.3h0M615.5 168.7h0M584.5 147.0h0M598.0 171.7h0M587.9 154.5h0M581.1 174.4h0M603.1 186.4h0M593.5 188.3h0M585.4 173.6h0" stroke-width="0.70" stroke-opacity="0.8"/><path d="M602.9 168.4h0M604.8 158.4h0M582.0 150.7h0M596.1 174.8h0M591.4 162.0h0M594.8 163.1h0M607.4 148.3h0M586.4 155.2h0M601.8 174.9h0M577.4 158.1h0M596.7 186.7h0M586.1 186.2h0M589.8 173.5h0M606.6 159.4h0M614.9 157.7h0M593.1 170.5h0M577.8 180.8h0M609.4 172.0h0M598.7 169.8h0M583.3 175.3h0M578.1 174.9h0M599.4 149.4h0M612.8 158.0h0M586.4 185.8h0M584.3 166.1h0M608.8 153.6h0M599.8 163.0h0M602.9 180.8h0M592.3 163.3h0M604.2 151.3h0M588.4 162.3h0M581.2 162.5h0M609.0 177.3h0M598.4 165.7h0M614.1 164.1h0M595.8 185.9h0M578.5 175.1h0M600.1 177.0h0" stroke-width="1.00" stroke-opacity="0.4"/><path d="M612.0 158.1h0M602.7 183.6h0M600.4 179.0h0M578.9 151.3h0M587.5 149.5h0M589.5 172.0h0M580.7 157.6h0M574.2 174.1h0M613.0 172.7h0M608.5 169.1h0M613.6 166.9h0M594.2 166.9h0M586.3 174.1h0M584.2 151.7h0M614.3 159.7h0M572.8 172.3h0M595.9 170.3h0M579.6 157.7h0M602.3 188.1h0M600.5 161.8h0M582.6 157.2h0M589.0 166.7h0M605.1 181.7h0M588.5 170.1h0M606.6 186.2h0M610.5 154.6h0M593.5 148.1h0" stroke-width="1.00" stroke-opacity="0.6"/><path d="M585.8 187.9h0M605.9 170.2h0M586.1 172.7h0M583.3 165.9h0M601.0 170.0h0M577.4 171.6h0M598.8 146.1h0M592.4 167.9h0M614.7 173.8h0M592.5 176.4h0M610.1 169.6h0M586.6 149.2h0M586.6 176.1h0M605.2 172.4h0M576.9 177.8h0M612.0 159.7h0M588.0 166.6h0M587.5 168.2h0M589.1 151.7h0M600.7 171.0h0M580.9 168.9h0M603.6 186.2h0M600.6 173.8h0M597.1 157.1h0M576.6 159.7h0M606.5 182.5h0M588.9 177.6h0M598.0 169.9h0M577.4 176.6h0M591.5 145.8h0M606.2 164.6h0M611.0 152.4h0M598.4 169.9h0M586.0 159.8h0M583.7 171.7h0M604.4 172.8h0M608.8 155.3h0M597.0 180.4h0M580.8 149.2h0M579.0 157.1h0M581.4 165.7h0M601.4 158.5h0M591.3 185.4h0M590.8 163.5h0M574.8 178.0h0M598.5 153.3h0" stroke-width="1.00" stroke-opacity="0.8"/><path d="M603.2 147.6h0M587.8 188.3h0M604.2 146.3h0M580.1 181.9h0M582.7 174.1h0M591.3 186.2h0M578.8 165.3h0M597.1 171.2h0M579.6 166.6h0M602.6 183.5h0M612.3 176.2h0M598.8 158.2h0M588.2 182.1h0M579.8 170.2h0M591.2 166.4h0M614.4 160.6h0M601.8 168.7h0" stroke-width="1.30" stroke-opacity="0.4"/><path d="M610.9 170.5h0M589.9 169.9h0M573.8 166.5h0M595.5 184.9h0M588.5 185.7h0M599.2 151.8h0M589.6 156.8h0M607.3 161.6h0M609.4 153.2h0M592.6 184.1h0M605.3 149.0h0M592.5 156.3h0M601.5 184.3h0" stroke-width="1.30" stroke-opacity="0.6"/><path d="M583.8 156.8h0M608.1 170.6h0M573.7 159.4h0M596.6 154.5h0M588.6 173.1h0M580.0 173.9h0M580.5 159.0h0M581.0 153.7h0M597.9 182.1h0M583.7 185.3h0M606.9 151.6h0M602.6 152.4h0M604.4 182.5h0M596.2 159.6h0M593.6 170.9h0M593.3 166.2h0M572.8 167.2h0M588.5 173.1h0M588.8 151.2h0M601.1 147.4h0M591.4 181.1h0M573.8 161.4h0M610.5 152.0h0M588.0 186.5h0M610.9 155.8h0M611.8 172.7h0M596.3 159.4h0M596.2 154.5h0" stroke-width="1.30" stroke-opacity="0.8"/><path d="M587.3 168.4h0M588.4 147.7h0M599.7 151.1h0M600.3 173.7h0M580.9 150.2h0M592.9 144.2h0M598.7 185.8h0M599.3 162.8h0M584.5 148.1h0M583.4 149.3h0" stroke-width="1.60" stroke-opacity="0.4"/><path d="M582.0 175.8h0M602.4 146.8h0M576.9 158.9h0M576.3 156.6h0M606.1 175.7h0M579.1 151.3h0M580.2 151.7h0M574.1 169.1h0M575.3 179.2h0" stroke-width="1.60" stroke-opacity="0.6"/><path d="M583.9 159.4h0M604.8 152.6h0M583.8 185.7h0M581.9 175.7h0M585.2 151.0h0M595.0 167.5h0M599.9 159.9h0M591.9 152.0h0M587.2 175.6h0M600.2 154.7h0M585.0 177.2h0M610.7 176.8h0M577.9 155.1h0M590.6 183.5h0M591.3 147.1h0M610.1 152.8h0M610.5 161.6h0M592.8 156.4h0M605.6 183.0h0M614.9 163.7h0M599.5 175.8h0M597.0 173.7h0M598.3 155.1h0M595.8 177.2h0M600.7 150.4h0" stroke-width="1.60" stroke-opacity="0.8"/></g>
<circle cx="645.9" cy="167.1" r="24.0" fill="rgb(254,254,254)" stroke="rgba(0,0,0,0.14)" stroke-width="1.2"/>
<g filter="url(#bl2)"><path d="M657.75,187.62 A23.7,23.7 0 0 1 637.79,189.37" fill="none" stroke="rgba(0,0,0,0.22)" stroke-width="1" stroke-linecap="round"/></g>
<g filter="url(#bl)" stroke="#000" stroke-linecap="round" fill="none"><path d="M636.2 152.3h0M650.2 176.0h0M648.1 154.6h0M645.5 187.9h0M656.9 163.7h0M647.5 184.0h0M643.8 160.8h0M625.3 170.0h0" stroke-width="0.40" stroke-opacity="0.2"/><path d="M633.3 161.0h0M647.9 152.5h0M662.2 180.3h0M630.0 161.3h0" stroke-width="0.40" stroke-opacity="0.4"/><path d="M648.9 174.9h0M633.4 182.4h0M639.2 168.2h0M653.6 173.8h0M635.8 185.3h0M655.1 150.0h0M659.3 164.9h0M640.7 153.2h0M652.1 187.7h0M631.0 155.5h0" stroke-width="0.70" stroke-opacity="0.2"/><path d="M627.5 155.0h0M660.6 169.3h0M639.7 168.4h0M644.9 168.1h0M660.0 150.8h0M645.0 177.8h0" stroke-width="0.70" stroke-opacity="0.4"/><path d="M663.4 153.1h0M661.3 169.5h0M633.7 186.1h0M638.5 168.9h0" stroke-width="1.00" stroke-opacity="0.2"/><path d="M653.6 145.7h0M654.4 147.1h0" stroke-width="1.00" stroke-opacity="0.4"/><path d="M638.6 165.8h0" stroke-width="1.30" stroke-opacity="0.2"/></g>
<circle cx="541.9" cy="226.7" r="24.3" fill="rgb(253,253,253)" stroke="rgba(0,0,0,0.25)" stroke-width="1.2"/>
<g filter="url(#bl2)"><path d="M523.51,242.13 A24.0,24.0 0 0 1 541.90,202.70" fill="none" stroke="rgba(0,0,0,0.45)" stroke-width="1.1" stroke-linecap="round"/><path d="M539.81,250.61 A24.0,24.0 0 0 1 523.51,242.13" fill="none" stroke="rgba(0,0,0,0.25)" stroke-width="1" stroke-linecap="round"/></g>
<g filter="url(#bl)" stroke="#000" stroke-linecap="round" fill="none"><path d="M549.7 233.3h0M521.4 231.5h0M533.9 224.8h0M528.4 245.5h0M543.4 221.5h0M526.6 237.6h0M556.1 221.2h0M539.5 221.0h0M521.1 219.7h0M528.4 226.7h0M533.4 221.4h0M530.1 230.3h0M541.7 234.7h0M544.8 230.9h0M531.6 237.6h0M537.5 212.8h0M550.7 225.7h0M545.8 204.2h0M535.4 246.3h0M558.0 232.2h0M545.6 210.2h0M534.2 228.8h0M546.4 248.0h0M526.0 222.9h0M549.9 217.3h0M525.4 240.7h0M546.1 225.8h0M546.2 205.9h0M548.9 220.9h0M544.7 226.5h0M531.3 221.5h0M530.2 233.6h0M563.3 222.5h0M534.7 231.8h0M526.5 211.5h0M541.7 206.5h0M536.9 216.8h0M536.8 231.6h0M537.4 238.2h0M532.3 225.8h0M556.6 216.0h0M529.8 226.5h0M547.3 232.3h0M528.0 232.4h0M533.9 234.6h0M540.9 218.3h0M535.7 222.3h0M555.6 217.0h0M523.8 218.5h0M557.7 224.3h0M552.3 226.7h0M541.3 222.3h0M544.6 210.1h0M536.0 226.2h0M532.0 235.6h0M540.2 215.5h0M539.7 220.0h0M553.1 232.3h0M533.4 226.6h0M550.4 236.7h0M556.1 220.7h0M539.1 230.3h0M547.1 240.6h0M558.7 231.5h0M534.7 220.6h0M554.6 234.7h0M520.6 223.8h0M551.3 237.1h0M538.5 208.1h0M549.3 228.1h0M542.1 242.0h0M544.1 235.7h0M560.0 227.0h0M540.5 233.2h0M555.6 220.4h0M550.0 232.9h0M533.9 228.4h0M539.9 245.8h0M523.1 229.0h0M538.9 212.8h0M541.6 213.9h0M546.9 221.8h0M528.6 224.9h0M539.7 222.0h0M546.9 215.0h0M520.4 223.9h0M550.2 246.6h0M521.9 222.8h0M549.7 212.1h0M550.7 205.8h0M543.0 243.0h0M554.2 228.5h0M542.5 228.9h0M550.7 226.5h0M546.2 221.1h0M532.4 207.8h0M542.3 225.7h0M549.0 229.4h0M529.6 235.0h0M541.9 220.6h0M551.5 217.1h0M540.8 223.3h0M544.9 223.8h0M544.8 212.3h0M543.7 215.3h0M533.3 216.3h0M558.6 220.4h0M557.8 229.2h0M539.6 213.0h0M550.5 222.5h0M540.5 215.9h0M542.2 248.1h0M527.8 231.6h0M531.3 233.8h0M537.0 231.4h0M545.0 237.0h0M533.2 223.4h0M549.6 231.3h0M536.2 210.1h0M529.4 208.6h0M551.7 238.0h0M555.4 232.2h0M549.4 238.6h0M539.4 224.5h0M540.2 216.1h0M525.1 235.5h0M538.1 205.8h0M546.6 229.7h0M538.4 239.8h0M549.1 220.4h0M536.8 241.4h0M534.3 231.5h0M545.2 233.1h0M533.7 240.0h0M553.0 225.5h0M520.8 222.2h0M543.2 238.8h0M540.4 226.8h0M540.1 220.9h0M528.2 215.4h0M540.4 241.0h0M557.9 220.9h0M540.2 207.5h0M559.2 226.3h0M540.1 229.6h0M544.9 232.1h0M550.6 236.0h0M529.2 216.2h0M542.6 245.4h0M541.2 243.3h0M537.8 241.6h0M553.2 225.1h0M556.6 228.3h0M526.0 236.9h0M529.6 225.2h0M537.4 220.9h0M544.2 226.2h0M557.6 210.8h0M536.6 214.3h0M546.3 230.8h0M525.2 224.5h0M537.4 234.7h0M561.8 221.5h0M541.8 238.4h0M554.7 233.7h0M529.9 218.2h0M545.6 218.0h0M527.5 232.1h0M537.0 221.1h0M543.5 226.3h0M550.4 215.2h0M540.5 236.7h0M524.5 235.5h0M528.6 210.8h0M523.8 219.4h0M536.7 215.1h0M534.1 230.6h0M551.9 223.4h0M549.5 239.4h0M529.1 222.7h0M531.9 237.5h0M546.2 222.2h0M528.2 227.9h0" stroke-width="0.40" stroke-opacity="0.2"/><path d="M536.8 227.0h0M564.7 231.1h0M542.5 229.6h0M540.4 222.4h0M547.0 238.4h0M545.0 222.6h0M545.4 238.0h0M546.4 223.6h0M542.0 241.0h0M541.9 238.2h0M531.4 220.8h0M531.5 218.1h0M552.7 234.3h0M558.8 216.0h0M549.7 226.8h0M554.7 232.0h0M532.4 229.8h0M539.4 217.6h0M544.3 246.7h0M541.8 228.4h0M523.0 227.8h0M519.5 231.6h0M537.8 227.4h0M526.8 221.9h0M533.2 227.4h0M541.8 239.4h0M549.9 237.6h0M548.7 230.6h0M535.4 234.9h0M553.9 234.6h0M539.7 225.7h0M552.2 223.1h0M534.3 222.3h0M545.5 218.3h0M522.5 224.1h0M541.4 228.7h0M530.9 225.2h0M552.7 239.0h0M549.6 226.5h0M525.0 233.2h0M553.2 243.8h0M538.7 226.5h0M530.1 219.3h0M555.8 216.7h0M546.2 225.3h0M546.8 217.3h0M554.6 225.9h0M552.6 239.3h0M561.6 223.6h0M557.1 225.4h0M535.8 239.1h0M542.4 230.0h0M538.4 235.4h0M563.6 233.1h0M532.4 230.3h0M543.3 224.6h0M561.0 228.6h0M525.6 222.5h0M527.3 234.3h0M541.1 218.9h0M534.3 208.4h0M537.9 227.1h0M542.3 215.8h0M527.1 223.4h0M538.9 226.0h0M528.4 217.0h0M539.8 223.7h0M552.0 212.9h0M547.2 228.3h0M550.1 230.9h0M556.3 211.6h0M532.1 234.4h0M560.9 215.4h0M537.2 233.4h0M546.8 232.1h0M554.8 212.3h0M543.1 217.4h0M536.4 238.8h0M543.7 228.2h0M541.4 212.8h0M549.0 241.5h0M556.6 226.6h0M545.1 245.6h0M551.3 207.1h0M531.6 238.3h0M548.1 228.3h0M530.6 226.7h0M537.3 236.3h0M528.7 237.7h0M557.1 236.9h0M532.0 218.2h0M532.1 215.4h0M545.7 242.2h0M557.4 240.7h0M540.0 231.4h0M543.1 227.4h0M547.9 233.1h0M542.7 228.0h0M537.5 229.2h0M542.6 215.2h0M546.4 221.8h0M554.1 221.8h0M543.6 218.2h0M558.6 224.7h0M525.2 219.9h0M523.5 236.1h0M561.1 230.8h0M535.2 217.7h0M542.3 238.1h0M534.2 208.9h0M532.1 212.4h0M534.4 228.0h0M540.4 218.3h0M528.6 224.7h0M546.5 219.5h0M548.4 240.7h0M541.0 245.5h0M530.1 244.2h0M555.1 228.5h0M546.3 246.7h0M528.7 226.0h0M549.6 248.1h0M558.7 211.6h0M529.9 217.7h0M530.8 222.4h0M550.2 214.1h0M541.8 213.6h0M526.9 214.4h0M543.6 233.8h0M556.9 240.5h0M528.0 233.0h0M541.7 221.4h0M556.4 226.7h0M531.5 214.9h0M535.8 238.0h0M543.6 206.7h0M530.7 208.6h0M554.8 231.2h0M544.8 239.4h0M544.8 225.8h0M555.5 224.6h0M542.6 229.6h0M535.6 219.8h0M531.9 226.1h0M539.5 221.8h0M547.2 245.6h0M534.2 222.7h0M540.2 206.8h0M553.3 212.1h0M542.3 218.0h0M542.6 233.3h0M558.4 228.3h0M539.2 215.4h0M539.4 230.8h0M554.0 234.6h0M545.0 217.1h0M543.3 218.3h0M545.5 208.9h0M536.7 237.2h0M546.7 234.5h0M532.1 210.5h0M536.6 219.7h0M539.2 218.8h0M530.2 230.6h0M536.7 229.5h0M555.1 239.2h0M532.9 231.6h0M529.1 229.7h0M544.8 238.8h0M545.0 240.3h0M558.5 229.2h0M554.8 235.6h0M541.4 230.6h0M543.2 206.4h0M543.6 220.4h0M532.8 228.3h0M557.7 218.3h0M531.0 218.0h0M560.3 215.3h0M539.5 238.6h0M532.6 213.7h0M551.4 221.5h0M542.0 232.4h0M554.9 236.4h0M555.4 218.7h0M546.3 207.0h0M528.9 240.3h0M533.2 227.3h0M553.6 225.2h0M555.8 218.3h0M545.0 232.5h0M556.6 216.4h0M539.7 233.8h0M559.1 233.4h0M548.9 213.8h0M539.9 235.3h0M556.3 240.7h0M551.1 227.0h0M537.9 244.4h0M535.9 215.5h0M560.3 218.3h0M544.3 249.6h0M526.4 223.5h0M536.4 220.2h0M547.6 233.8h0M523.8 222.8h0M558.1 223.1h0M552.0 226.0h0M532.0 209.7h0M542.9 219.9h0M534.9 211.8h0M556.7 209.5h0M557.1 238.3h0M545.1 225.0h0M561.3 234.4h0M543.6 248.0h0M536.1 210.0h0M527.0 225.8h0M540.6 231.5h0M539.0 216.2h0M554.7 238.2h0M532.7 226.2h0M541.9 238.1h0M551.1 238.7h0M527.8 240.0h0M556.1 239.3h0M543.5 212.2h0M537.0 231.8h0M562.0 233.0h0M532.7 223.4h0M534.9 227.4h0M561.1 232.8h0M540.8 223.9h0M524.5 229.5h0M534.4 226.6h0M552.8 223.2h0M534.1 219.5h0M535.5 227.5h0M521.2 235.9h0M544.8 216.7h0M560.6 238.1h0M554.9 225.0h0M538.2 217.9h0M546.0 223.8h0M554.2 221.7h0M550.4 223.2h0M531.1 224.8h0M556.0 229.9h0M536.9 228.7h0M558.3 214.6h0M538.7 231.6h0M546.4 234.0h0M540.9 232.7h0M542.8 219.8h0M554.1 239.4h0M554.6 213.3h0M537.3 244.2h0M539.8 247.9h0M529.1 227.6h0M539.0 233.4h0M548.5 237.8h0M541.1 211.1h0M530.8 227.4h0M522.2 232.4h0M553.4 222.7h0M549.9 231.9h0M551.3 210.7h0M531.0 222.5h0M537.9 219.5h0M529.3 226.7h0M540.7 203.8h0M543.4 228.0h0M540.8 240.4h0M552.3 214.4h0M537.2 239.7h0M525.0 234.2h0M541.0 224.7h0M551.3 210.2h0M549.6 245.9h0M548.7 229.8h0M542.2 230.5h0M538.2 227.9h0M548.1 217.0h0M563.6 233.6h0M540.7 226.5h0M545.8 222.4h0M539.6 233.9h0M558.0 229.3h0M546.9 225.0h0M543.7 221.3h0M541.4 245.9h0M540.5 234.3h0M541.1 234.3h0M542.8 218.5h0M538.0 236.1h0M550.2 232.9h0M526.9 232.0h0M542.3 214.5h0M534.2 221.1h0M550.2 220.8h0M542.3 238.9h0M534.3 228.3h0M532.2 205.8h0M546.1 226.3h0M526.5 216.1h0M541.9 231.6h0M542.0 212.2h0M528.8 221.6h0M552.2 210.1h0M545.7 230.6h0M546.6 212.7h0M533.3 226.0h0M538.4 226.3h0" stroke-width="0.40" stroke-opacity="0.4"/><path d="M550.2 236.3h0M549.8 240.1h0M545.3 219.9h0M551.5 237.2h0M539.4 235.7h0M559.7 218.6h0M555.8 226.8h0M552.6 220.3h0M535.5 231.1h0M527.0 214.7h0M522.1 237.1h0M529.7 241.2h0M549.4 214.8h0M534.2 211.9h0M557.5 235.2h0M555.1 222.5h0M560.3 217.7h0M532.0 222.6h0M531.5 239.6h0M534.1 226.5h0M538.6 212.1h0M538.4 215.6h0M530.4 228.2h0M546.0 238.0h0M548.4 232.1h0M537.2 214.7h0M546.0 219.1h0M558.2 228.6h0M553.2 228.4h0M553.2 235.3h0M549.0 236.2h0M547.3 217.3h0M559.2 230.9h0M560.7 223.4h0M544.1 231.5h0M552.4 239.1h0M549.7 219.9h0M549.7 230.6h0M542.2 218.9h0M542.0 238.8h0M542.3 221.9h0M540.8 242.9h0" stroke-width="0.40" stroke-opacity="0.6"/><path d="M545.0 221.1h0M533.0 219.8h0M542.0 238.6h0M533.5 229.2h0M538.1 225.2h0M531.8 233.7h0M551.7 216.1h0M544.0 208.0h0M538.3 209.6h0M544.8 246.6h0M545.3 238.5h0M555.0 236.9h0M526.9 220.2h0M551.6 220.3h0M554.5 220.4h0M546.0 222.3h0M535.9 227.7h0M541.6 211.5h0M557.1 240.5h0M546.9 231.2h0M544.0 225.8h0M535.7 229.8h0M534.5 231.1h0M552.1 229.4h0M551.6 242.7h0M541.2 224.0h0M527.5 213.9h0M531.1 210.0h0M523.3 236.1h0M532.5 231.5h0M533.9 213.1h0M533.9 206.1h0M549.9 219.1h0M529.4 234.4h0M543.7 225.8h0M550.9 221.9h0M527.3 220.6h0M526.9 238.4h0M557.7 243.3h0M534.3 217.9h0M537.7 235.2h0M555.7 216.1h0M531.7 226.3h0M553.8 238.4h0M531.2 240.0h0M556.0 224.8h0M547.5 228.1h0M549.2 206.2h0M536.3 230.8h0M548.6 233.4h0M549.2 242.6h0M521.0 226.4h0M537.2 242.6h0M523.8 238.9h0M544.3 230.6h0M527.5 236.3h0M525.1 236.3h0M535.5 243.6h0M547.6 234.3h0M551.8 231.5h0M539.1 207.8h0M541.6 221.9h0M532.4 243.6h0M547.1 221.5h0M543.5 236.9h0M534.1 216.4h0M529.6 231.5h0M544.0 219.0h0M540.5 216.4h0M551.1 226.5h0M530.1 214.3h0M533.5 224.3h0M545.4 227.7h0M530.0 228.7h0M539.8 229.1h0M538.6 239.1h0M551.5 238.3h0M539.8 227.2h0M542.2 210.3h0M541.4 233.3h0M553.2 229.0h0M529.7 237.8h0M527.3 213.1h0M535.8 247.7h0M530.6 229.6h0M532.4 228.4h0M541.3 222.8h0M548.3 245.5h0M553.9 223.3h0M549.6 226.9h0M559.6 227.9h0M541.9 231.1h0M539.9 215.7h0M554.1 221.7h0M540.3 227.2h0M546.0 246.5h0M540.5 223.6h0M543.1 219.5h0M545.8 218.0h0M543.2 229.4h0M550.9 238.0h0M545.7 228.0h0M547.5 221.2h0M531.2 217.0h0M546.4 238.7h0M542.3 225.7h0M552.9 211.4h0M546.6 208.5h0M538.6 213.3h0M542.8 237.0h0M540.5 221.7h0M546.3 241.5h0M522.5 234.3h0M551.6 243.4h0M551.5 223.6h0M547.1 218.9h0M523.6 235.4h0M561.3 229.1h0M525.1 224.6h0M550.1 238.0h0M532.2 233.9h0M532.2 226.3h0M539.1 239.9h0M536.1 234.9h0M534.4 222.4h0M530.9 235.1h0M530.0 208.4h0M541.9 234.8h0M542.8 238.9h0M538.0 232.7h0M555.0 214.8h0M545.3 236.2h0M551.2 236.3h0M550.9 233.4h0M540.6 224.8h0M558.3 242.3h0M555.0 213.0h0M540.6 225.2h0M555.4 218.6h0" stroke-width="0.70" stroke-opacity="0.2"/><path d="M548.6 224.7h0M534.7 246.1h0M554.7 232.3h0M545.0 229.9h0M525.8 226.9h0M540.6 232.9h0M527.3 224.5h0M539.5 215.5h0M533.6 205.6h0M544.5 212.3h0M544.9 210.3h0M543.4 227.8h0M540.8 226.9h0M541.8 236.8h0M543.3 228.4h0M556.5 221.4h0M539.5 211.4h0M547.6 235.5h0M551.1 223.6h0M538.3 232.2h0M543.9 216.0h0M544.0 217.2h0M526.2 223.3h0M531.2 235.6h0M530.5 243.3h0M529.5 244.3h0M545.5 234.8h0M541.9 240.0h0M531.7 212.8h0M532.2 229.7h0M529.8 236.5h0M540.5 226.3h0M538.5 223.3h0M550.3 211.7h0M526.6 229.6h0M557.0 219.2h0M527.6 243.9h0M543.6 225.6h0M534.2 229.3h0M554.5 224.5h0M535.5 214.5h0M557.3 231.4h0M542.9 238.1h0M540.1 219.2h0M537.8 230.2h0M545.1 222.2h0M532.8 219.1h0M562.7 226.7h0M547.2 214.5h0M540.6 226.4h0M529.6 222.5h0M544.6 222.3h0M546.5 223.9h0M527.0 233.9h0M530.8 216.1h0M548.4 227.2h0M535.3 221.0h0M524.2 220.9h0M533.8 222.1h0M546.5 231.6h0M542.9 232.1h0M524.7 233.8h0M534.7 240.5h0M553.2 211.5h0M538.8 231.6h0M523.9 228.5h0M547.9 244.4h0M550.4 231.2h0M532.2 221.0h0M547.6 213.6h0M557.5 231.0h0M549.7 234.6h0M534.4 221.4h0M542.2 209.5h0M547.3 220.1h0M535.9 220.6h0M532.9 225.9h0M544.5 205.1h0M559.8 240.3h0M538.3 218.6h0M545.2 205.1h0M548.6 221.3h0M548.0 229.3h0M525.3 214.0h0M535.3 218.0h0M539.4 214.4h0M535.7 219.7h0M548.2 231.1h0M554.6 229.4h0M536.3 224.6h0M537.0 211.8h0M562.1 228.4h0M549.5 226.2h0M532.4 237.7h0M536.8 232.5h0M543.0 223.1h0M531.1 233.8h0M547.5 247.7h0M553.8 225.6h0M553.6 218.4h0M532.8 228.6h0M547.2 218.6h0M532.0 211.2h0M560.3 216.5h0M547.1 221.2h0M535.3 232.8h0M546.4 226.2h0M543.5 222.7h0M524.5 224.0h0M556.0 224.1h0M549.0 237.8h0M551.6 246.3h0M562.6 224.2h0M541.5 234.8h0M524.6 241.2h0M526.3 216.6h0M525.0 233.5h0M533.3 239.1h0M540.9 248.9h0M542.8 221.1h0M545.2 234.0h0M542.2 221.8h0M539.1 244.0h0M539.1 229.5h0M539.8 231.3h0M546.1 236.9h0M536.0 225.7h0M549.5 223.4h0M555.7 231.6h0M531.6 216.4h0M550.0 224.8h0M545.2 236.5h0M547.6 233.4h0M544.9 220.5h0M563.7 225.8h0M542.2 243.3h0M531.8 217.6h0M548.4 240.1h0M549.5 236.5h0M537.7 225.2h0M525.4 227.1h0M527.2 225.2h0M555.7 221.2h0M551.5 241.5h0M531.3 222.4h0M534.4 230.2h0M534.5 234.2h0M539.4 205.6h0M534.2 230.1h0M555.4 222.9h0M535.8 235.7h0M544.9 245.7h0M548.0 232.3h0M530.7 229.1h0M534.9 210.5h0M558.1 243.0h0M525.6 214.8h0M562.7 222.5h0M525.0 229.5h0M533.6 208.8h0M551.6 231.2h0M551.4 226.5h0M540.9 215.6h0M525.9 243.5h0M549.2 230.8h0M527.8 211.7h0M534.5 232.1h0M545.1 215.0h0M545.3 229.7h0M529.0 207.4h0M535.0 224.5h0M535.8 214.7h0M526.8 243.2h0M561.1 229.1h0M534.6 223.6h0M536.1 236.8h0M548.2 235.4h0M544.1 233.0h0M528.4 228.1h0M536.6 225.3h0M541.3 232.3h0M525.6 231.7h0M561.7 233.8h0M534.7 210.1h0M535.4 229.8h0M533.9 236.2h0M546.0 234.3h0M549.2 243.0h0M535.4 220.8h0M529.1 227.4h0M535.6 235.9h0M536.7 234.7h0M529.8 228.6h0M544.0 219.7h0M531.6 216.0h0M558.9 233.9h0M548.1 231.1h0M540.3 214.4h0M525.5 220.9h0M541.0 238.0h0M527.0 224.1h0M548.2 218.8h0M540.8 215.2h0M534.2 235.1h0M544.6 229.0h0M547.0 221.9h0M538.4 245.5h0M533.5 212.5h0M545.6 212.4h0M531.5 230.4h0M537.7 216.6h0M537.9 225.1h0M554.7 227.3h0M527.3 234.8h0M546.2 230.0h0M535.9 223.6h0M549.8 219.8h0M546.6 228.2h0M558.3 214.2h0M533.7 226.5h0M542.2 215.3h0M543.1 219.9h0M521.5 225.7h0M554.9 221.9h0M550.8 226.2h0M524.1 222.7h0M534.8 229.9h0M549.5 236.1h0M539.4 207.5h0M535.2 244.5h0M530.7 224.3h0M545.5 230.6h0M543.0 234.3h0M527.1 239.1h0M549.5 219.5h0M550.2 240.3h0M535.3 233.9h0M541.8 242.6h0M545.8 244.9h0M546.4 225.5h0M527.1 216.6h0M548.4 243.8h0M556.2 230.5h0M526.0 221.9h0M550.4 228.0h0M546.1 215.6h0M538.7 247.8h0M533.1 227.6h0M533.7 227.0h0M544.7 224.1h0M544.7 224.9h0M548.7 209.6h0M540.5 217.0h0M539.8 224.6h0M540.4 212.6h0M548.6 219.5h0M552.2 230.3h0M543.2 214.1h0M536.9 231.0h0M540.0 236.8h0M546.5 222.8h0M560.9 233.8h0M541.9 248.8h0M556.2 230.4h0M521.5 235.9h0M526.5 210.4h0M535.5 244.7h0M545.5 222.8h0M544.6 232.2h0M546.9 237.5h0M548.3 224.9h0M533.3 212.5h0M528.4 230.6h0M523.6 240.9h0M546.9 215.6h0M552.6 220.2h0M536.9 248.4h0M549.6 227.2h0M548.2 225.4h0M530.6 226.5h0M544.4 231.5h0M555.1 213.6h0M536.6 228.6h0M530.8 227.3h0M543.3 216.6h0M526.3 220.3h0M541.9 237.0h0M553.9 220.8h0M542.9 229.0h0M556.2 244.7h0M542.7 222.4h0M557.7 215.3h0M537.2 235.7h0" stroke-width="0.70" stroke-opacity="0.4"/><path d="M545.1 214.0h0M535.8 232.3h0M546.1 219.0h0M551.2 210.2h0M552.6 242.9h0M553.7 238.6h0M521.0 230.4h0M536.1 247.8h0M555.3 237.9h0M539.0 216.9h0M528.7 225.6h0M531.5 221.6h0M557.1 241.1h0M529.6 231.0h0M537.8 236.0h0M542.8 205.7h0M541.1 208.5h0M527.4 220.8h0M564.0 226.6h0M542.0 235.3h0M543.5 234.7h0M554.8 211.6h0M552.9 231.2h0" stroke-width="0.70" stroke-opacity="0.6"/><path d="M528.8 243.5h0M539.5 211.2h0M548.5 238.5h0M540.6 249.7h0M540.3 213.0h0M526.7 229.9h0M548.5 215.8h0M527.2 212.0h0M527.6 228.4h0M544.7 222.1h0M544.3 243.0h0M534.5 246.5h0M522.1 220.3h0M561.9 221.4h0M558.7 235.5h0M536.0 221.0h0M542.2 231.2h0M532.8 213.7h0M545.4 231.4h0M524.5 226.0h0M524.6 222.1h0M536.3 244.1h0M551.7 221.2h0M525.2 223.3h0M531.0 234.8h0M547.9 225.8h0M549.7 222.5h0M520.2 231.1h0M540.2 223.4h0M532.4 215.7h0" stroke-width="1.00" stroke-opacity="0.2"/><path d="M532.0 229.6h0M539.7 218.9h0M546.9 228.3h0M536.8 234.8h0M546.0 238.1h0M540.9 225.0h0M534.8 239.3h0M542.0 227.0h0M541.6 236.0h0M555.4 224.1h0M548.3 212.0h0M524.2 235.9h0M547.5 222.1h0M539.2 241.3h0M550.6 218.0h0M544.2 229.1h0M543.5 205.4h0M541.2 217.8h0M543.5 245.2h0M524.5 217.7h0M531.5 241.5h0M544.4 223.0h0M533.6 215.6h0M541.0 221.8h0M549.7 229.7h0M532.5 225.5h0M524.6 211.3h0M553.0 229.2h0M560.0 240.9h0M550.3 236.6h0M519.6 232.0h0M558.2 223.6h0M545.5 228.5h0M547.6 229.6h0M544.5 235.2h0M541.7 228.2h0M548.2 225.0h0M545.8 218.4h0M545.6 231.9h0M539.7 229.0h0M533.8 231.0h0M536.4 214.1h0M560.1 223.2h0M519.3 224.3h0M558.4 238.0h0M530.9 215.8h0M548.4 235.8h0M527.6 224.0h0M537.1 231.5h0M546.5 235.7h0M536.1 232.0h0" stroke-width="1.00" stroke-opacity="0.4"/><path d="M551.2 209.6h0" stroke-width="1.00" stroke-opacity="0.6"/><path d="M542.9 242.2h0M541.5 243.4h0M538.7 220.7h0M539.5 240.8h0M553.3 227.7h0" stroke-width="1.30" stroke-opacity="0.2"/><path d="M538.8 213.7h0M541.9 233.9h0M554.0 224.0h0M546.7 212.9h0M534.8 230.0h0M542.4 243.6h0M536.5 239.3h0M555.3 231.3h0M523.5 236.6h0M546.0 224.4h0M532.5 213.0h0M548.4 224.9h0M528.3 245.5h0M521.1 219.8h0M554.5 230.9h0M539.6 216.3h0M565.1 226.5h0M532.8 210.3h0" stroke-width="1.30" stroke-opacity="0.4"/><path d="M535.4 215.5h0" stroke-width="1.60" stroke-opacity="0.2"/><path d="M556.1 209.7h0" stroke-width="1.60" stroke-opacity="0.4"/></g>
<circle cx="593.4" cy="226.7" r="24.3" fill="rgb(251,251,251)" stroke="rgba(0,0,0,0.25)" stroke-width="1.2"/>
<g filter="url(#bl2)"><path d="M569.76,222.53 A24.0,24.0 0 0 1 593.40,202.70" fill="none" stroke="rgba(0,0,0,0.5)" stroke-width="1.2" stroke-linecap="round"/><path d="M616.58,220.49 A24.0,24.0 0 0 1 617.31,228.79" fill="none" stroke="rgba(0,0,0,0.35)" stroke-width="1.1" stroke-linecap="round"/></g>
<g filter="url(#bl)" stroke="#000" stroke-linecap="round" fill="none"><path d="M612.1 233.1h0M571.3 229.1h0M588.6 237.2h0M581.2 240.5h0M610.9 221.3h0M577.2 220.0h0M602.0 209.9h0M602.5 242.7h0M604.0 232.9h0M598.8 230.7h0M586.5 240.3h0M602.0 224.2h0M589.9 213.1h0M582.1 232.6h0M592.9 230.9h0M595.9 228.8h0M581.4 237.0h0M593.6 236.2h0M603.1 230.1h0M588.0 234.1h0M580.0 221.8h0M593.0 231.9h0M580.5 218.9h0M590.1 205.7h0M596.3 230.5h0M574.2 223.1h0M599.1 221.0h0M584.5 232.7h0M585.5 219.3h0M587.1 243.9h0M607.1 219.5h0M595.1 212.6h0M596.8 225.1h0M585.9 228.8h0M575.7 237.2h0M601.7 219.9h0M588.1 224.3h0M591.6 219.1h0M594.4 240.7h0M585.0 222.2h0M599.9 211.1h0M577.3 222.0h0M590.1 220.4h0M573.8 221.5h0M572.9 230.3h0M585.6 217.1h0M574.0 226.8h0M596.3 226.7h0M614.5 227.1h0M580.1 212.9h0M601.5 219.1h0M585.6 219.2h0M588.4 237.7h0M596.7 204.9h0M593.9 236.0h0M590.7 228.4h0M585.4 233.8h0M576.1 212.3h0M595.8 215.8h0M606.4 211.7h0M589.2 223.3h0M584.4 220.9h0M585.6 239.6h0M596.9 235.2h0M604.0 226.2h0M600.6 232.5h0M592.3 206.9h0M596.2 214.4h0M577.3 229.7h0M584.4 217.8h0M586.8 217.9h0M606.9 233.5h0M604.8 232.0h0M605.9 245.5h0M576.9 229.7h0M602.7 227.1h0M597.0 220.8h0M596.9 237.3h0M581.1 213.5h0M605.6 224.1h0M600.5 221.6h0M592.4 227.9h0M581.2 242.3h0M583.6 229.0h0M601.7 217.7h0M604.3 239.9h0M608.6 213.5h0M586.4 240.8h0M593.6 242.7h0M592.5 212.1h0M588.6 239.8h0M611.3 222.3h0M605.6 214.1h0M588.3 227.7h0M602.1 207.7h0M593.2 221.0h0M593.1 225.7h0M590.9 235.7h0M593.1 219.0h0M596.8 227.7h0M604.7 242.2h0M573.8 217.2h0M588.3 219.7h0M583.5 246.4h0M599.5 220.5h0M574.2 224.9h0M598.3 243.4h0M606.1 215.1h0M584.4 239.2h0M597.0 221.0h0M586.3 230.3h0M574.8 228.8h0M576.4 217.4h0M583.9 216.0h0M577.7 241.8h0M603.4 222.8h0M598.6 213.2h0M590.7 213.5h0M579.8 219.5h0M596.2 232.7h0M597.8 214.4h0M598.6 226.0h0M594.1 241.5h0M577.0 215.2h0M588.9 212.2h0M581.7 219.6h0M590.8 231.5h0M588.6 238.1h0M582.8 243.3h0M587.1 220.7h0M598.7 218.1h0M589.1 234.0h0M594.9 212.0h0M592.1 213.1h0M592.6 205.5h0M599.8 217.0h0M600.4 229.9h0M587.1 205.3h0M598.3 222.8h0M589.3 239.1h0M592.8 216.1h0M575.9 220.4h0M576.4 232.5h0M592.2 212.5h0M602.6 222.6h0M590.3 226.1h0M584.8 224.2h0M593.9 227.7h0M590.0 235.7h0M589.5 231.2h0M588.8 235.5h0M592.3 207.8h0M590.9 217.8h0M613.6 219.5h0M602.4 207.1h0M608.5 219.0h0M589.9 217.6h0M602.5 232.9h0M601.4 225.0h0M582.6 240.1h0M583.9 215.8h0M587.8 238.1h0M586.2 220.3h0M610.3 219.1h0M601.3 219.0h0" stroke-width="0.40" stroke-opacity="0.2"/><path d="M575.3 223.8h0M595.3 207.6h0M600.3 236.7h0M588.3 209.8h0M580.7 224.8h0M592.8 230.6h0M605.8 233.5h0M598.2 235.1h0M593.0 206.7h0M601.2 235.5h0M599.7 224.1h0M599.1 230.4h0M581.4 231.5h0M584.1 218.2h0M583.7 229.4h0M599.8 212.4h0M570.8 224.5h0M595.6 225.1h0M592.0 212.3h0M593.1 206.7h0M589.0 229.6h0M591.6 245.4h0M585.4 234.0h0M580.1 220.4h0M598.1 213.9h0M585.6 243.4h0M607.7 213.7h0M595.3 234.5h0M593.4 239.2h0M601.3 231.2h0M610.1 228.2h0M595.1 239.4h0M586.1 222.3h0M592.4 220.3h0M583.7 222.1h0M594.3 213.8h0M586.3 226.0h0M602.5 222.3h0M599.8 222.1h0M609.8 225.0h0M594.7 241.6h0M574.5 235.5h0M601.3 229.1h0M595.8 244.9h0M579.0 223.1h0M604.7 239.9h0M614.2 231.1h0M608.9 221.0h0M603.4 213.8h0M603.8 222.9h0M596.5 220.7h0M599.1 246.4h0M591.2 210.4h0M586.1 226.2h0M604.8 220.7h0M595.9 221.0h0M576.7 227.6h0M600.2 223.5h0M595.9 235.6h0M596.5 243.5h0M598.0 229.5h0M593.7 221.9h0M594.0 230.9h0M597.5 237.5h0M596.4 210.4h0M584.1 213.3h0M588.2 234.6h0M581.9 214.2h0M594.7 228.9h0M594.2 214.9h0M591.4 241.1h0M593.4 231.0h0M601.6 217.9h0M593.1 216.3h0M596.6 222.2h0M605.0 218.0h0M601.6 222.6h0M592.0 238.3h0M594.8 244.8h0M590.9 228.6h0M587.2 204.2h0M608.6 234.6h0M604.7 224.6h0M582.2 242.2h0M609.3 218.0h0M586.2 216.7h0M598.7 228.9h0M580.0 229.5h0M584.8 237.9h0M572.7 227.9h0M590.8 204.1h0M609.6 232.4h0M584.9 212.8h0M599.5 223.8h0M598.8 221.7h0M592.2 215.8h0M603.5 233.1h0M574.0 233.5h0M600.2 238.6h0M597.0 217.6h0M600.8 235.5h0M599.7 228.2h0M576.6 216.3h0M576.8 236.3h0M577.3 213.7h0M573.5 215.4h0M594.4 224.1h0M598.3 219.9h0M606.7 212.6h0M603.5 223.4h0M595.3 209.4h0M592.1 231.6h0M593.8 235.9h0M581.7 209.0h0M593.2 208.5h0M594.1 238.8h0M604.8 246.2h0M587.3 234.1h0M597.5 219.6h0M597.4 218.7h0M595.9 223.4h0M594.4 207.2h0M585.9 213.2h0M591.7 237.0h0M599.1 229.6h0M599.5 214.1h0M590.4 211.2h0M604.5 223.2h0M587.8 244.4h0M583.3 224.1h0M601.1 217.0h0M606.5 217.5h0M602.0 209.0h0M585.5 223.1h0M607.6 236.0h0M590.0 247.7h0M610.5 227.6h0M604.7 220.9h0M590.0 227.0h0M588.5 235.0h0M599.3 217.0h0M608.5 220.9h0M608.3 211.6h0M591.4 226.9h0M590.5 239.6h0M573.7 238.5h0M607.4 208.3h0M596.9 238.6h0M611.7 217.6h0M591.5 208.6h0M604.4 229.7h0M598.6 225.9h0M598.8 229.1h0M590.2 211.3h0M584.7 237.9h0M581.1 245.7h0M590.9 213.5h0M577.0 230.7h0M613.0 235.2h0M587.7 230.3h0M589.9 226.4h0M589.2 230.9h0M590.3 225.7h0M599.2 233.3h0M587.4 220.3h0M591.3 236.6h0M600.7 235.8h0M604.1 234.6h0M611.4 231.5h0M580.4 213.7h0M602.6 224.8h0M587.9 221.4h0M585.8 237.2h0M606.6 223.7h0M593.5 211.4h0M607.3 239.9h0M600.7 228.6h0M599.7 224.3h0M606.2 225.3h0M592.1 229.5h0M599.2 218.5h0M601.1 215.0h0M581.1 214.6h0M598.5 230.5h0M599.0 243.3h0M591.3 221.6h0M609.0 213.7h0M607.5 231.9h0M605.2 228.1h0M597.3 234.7h0M613.2 227.5h0M605.3 214.5h0M593.5 224.9h0M607.7 222.2h0M594.7 230.9h0M604.3 215.6h0M598.6 236.7h0M589.7 241.9h0M590.4 218.6h0M596.4 215.3h0M605.4 239.7h0M596.5 224.4h0M604.4 235.9h0M581.8 245.0h0M591.6 220.9h0M609.8 217.1h0M578.0 227.7h0M586.5 247.1h0M587.2 246.0h0M611.2 218.3h0M595.6 216.8h0M588.4 245.4h0M593.6 225.2h0M582.6 228.0h0M595.3 212.8h0M585.9 211.8h0M586.7 228.1h0M604.0 215.3h0M608.8 237.6h0M606.6 235.0h0M606.6 240.4h0M612.1 223.9h0M595.6 244.4h0M602.0 222.8h0M586.8 216.8h0M598.4 234.6h0M591.7 234.2h0M587.2 226.5h0M591.5 235.1h0M604.7 215.6h0M576.1 230.9h0M601.4 228.5h0M604.0 230.9h0M589.0 238.5h0M590.6 214.0h0M600.4 210.9h0M600.0 230.3h0M598.3 222.3h0M595.1 231.6h0M596.2 227.3h0M590.2 243.5h0M594.8 217.3h0M587.0 212.4h0M582.9 243.8h0M590.3 240.9h0M581.8 220.3h0M593.5 223.5h0M588.5 247.4h0M598.0 230.2h0M585.9 236.9h0M609.1 223.0h0M582.7 229.8h0M588.8 210.0h0M600.4 224.8h0M581.9 227.8h0M598.1 208.9h0M589.4 208.5h0M595.0 248.8h0M608.8 238.7h0M591.1 221.4h0M607.3 220.9h0M584.7 228.8h0M602.4 239.9h0M592.8 216.3h0M594.1 229.6h0M585.8 219.4h0M596.8 222.2h0M600.6 246.1h0M602.1 213.2h0M587.9 225.9h0M592.3 227.6h0M592.5 220.3h0M591.7 236.8h0M597.6 237.6h0M577.5 217.0h0M593.9 239.3h0M597.9 221.6h0M598.0 206.1h0M581.8 236.1h0M577.8 230.3h0M596.3 237.3h0M607.2 225.4h0M582.5 219.3h0M600.7 219.0h0M604.5 227.9h0M600.9 242.5h0M604.9 234.0h0M595.8 226.0h0M606.7 220.7h0M595.8 226.8h0M606.2 223.4h0M602.8 234.7h0M589.6 238.5h0M608.7 224.5h0M601.0 214.0h0M602.7 239.6h0M587.7 215.5h0M598.2 226.6h0M580.2 225.5h0M584.4 219.9h0M614.9 219.2h0M602.7 238.6h0M583.2 243.5h0M592.1 222.1h0M603.1 238.5h0M603.7 215.7h0M591.4 220.9h0M602.3 219.9h0M608.5 228.4h0M608.0 214.7h0M605.0 240.4h0M598.5 244.3h0M575.4 226.6h0M606.5 234.3h0M602.8 233.5h0M590.3 210.3h0" stroke-width="0.40" stroke-opacity="0.4"/><path d="M593.5 224.3h0M577.8 218.6h0M606.2 224.0h0M597.5 231.9h0M614.8 229.2h0M580.7 215.8h0M599.1 240.1h0M589.7 226.5h0M585.6 229.1h0M599.9 214.2h0M606.8 216.7h0M600.7 229.6h0M585.9 230.3h0M601.0 205.8h0M595.6 209.2h0M590.7 240.6h0M590.4 238.6h0M587.7 233.5h0M604.8 238.1h0M593.1 243.7h0M572.8 221.4h0M596.5 247.2h0M596.6 240.6h0M591.7 222.1h0M589.9 228.4h0M591.2 234.3h0M589.6 241.6h0M589.8 223.8h0M608.0 222.7h0M599.4 215.3h0M592.0 229.3h0M591.7 229.6h0M584.4 225.4h0M587.1 219.0h0M590.9 239.4h0M605.9 208.4h0M594.2 204.5h0M573.9 216.8h0M596.0 223.6h0M577.4 222.7h0M586.8 243.7h0M607.8 216.2h0M577.9 234.4h0M587.2 216.9h0M585.1 225.5h0M607.1 227.7h0M596.1 209.4h0M587.3 228.7h0M589.8 213.6h0M604.5 226.9h0M588.3 233.3h0M581.8 214.7h0M591.8 218.0h0M606.1 242.4h0M592.2 227.5h0M572.2 232.9h0M599.6 213.1h0M597.9 228.6h0M596.8 235.3h0M573.1 229.5h0M604.2 233.3h0M613.1 216.2h0M600.6 229.9h0M597.2 238.2h0M590.6 239.5h0M591.1 215.7h0M580.2 224.0h0M590.4 243.0h0M600.3 230.9h0M584.9 242.6h0M595.9 228.5h0M609.2 219.7h0M587.5 229.9h0M595.9 227.6h0M590.8 210.4h0M586.5 217.7h0M594.0 230.6h0M601.3 235.7h0M579.1 220.7h0M602.9 233.2h0M601.0 206.9h0M600.9 218.0h0M587.3 232.2h0M597.7 210.5h0M593.3 209.8h0M597.2 220.3h0M577.0 233.6h0M591.4 232.1h0M596.6 234.0h0M607.3 237.2h0M591.3 244.3h0M596.0 221.9h0M590.2 222.2h0M595.3 238.9h0M580.7 219.8h0M609.2 214.5h0M587.0 232.8h0M609.3 219.8h0M599.9 216.5h0M578.6 213.2h0M587.5 228.9h0M597.3 240.2h0M582.1 223.6h0M586.0 207.7h0M577.0 218.2h0M614.3 227.2h0M586.5 234.3h0M588.3 245.3h0M605.3 216.1h0M603.8 244.7h0M608.5 228.0h0M591.7 246.2h0M599.3 225.3h0M590.5 216.3h0M583.8 225.4h0M585.2 231.1h0M600.7 207.6h0M585.6 235.6h0M584.0 216.9h0M612.7 230.7h0M581.7 230.5h0M593.0 232.5h0M587.0 229.6h0M583.8 244.3h0M612.7 214.2h0M585.3 233.1h0M613.6 220.4h0M596.3 227.4h0M586.4 204.5h0M580.7 222.0h0M580.5 213.1h0M574.9 227.3h0M612.3 239.3h0M588.5 206.1h0M597.4 207.0h0M602.3 211.2h0M597.6 232.6h0M580.3 209.4h0M592.1 249.1h0M594.9 215.9h0M595.4 235.9h0M590.5 234.5h0M582.6 211.3h0M594.9 206.1h0M594.7 228.9h0M587.0 233.6h0M584.9 226.4h0M573.2 234.8h0M583.1 217.1h0M594.8 226.0h0M598.6 209.7h0M580.6 231.0h0M589.8 235.0h0M580.2 243.0h0M585.4 227.4h0M595.9 224.6h0M599.2 220.8h0M607.2 228.4h0M594.8 231.9h0M572.2 234.1h0M591.1 234.3h0M586.9 213.8h0M595.1 212.2h0M596.2 229.5h0M600.3 238.6h0M577.4 239.8h0M602.0 242.8h0M584.1 236.1h0M585.4 228.8h0M587.9 228.0h0M589.5 240.1h0M595.7 228.4h0M602.2 227.4h0M585.5 207.4h0M593.6 223.8h0M602.5 237.1h0M594.8 221.5h0M571.8 231.2h0M586.8 233.7h0M596.9 247.3h0M600.8 219.3h0M595.6 215.1h0M593.6 211.0h0M595.6 223.2h0M579.8 233.4h0M573.7 233.5h0M594.8 224.9h0M572.3 228.3h0M581.2 215.4h0M587.0 227.6h0M591.9 232.8h0M599.9 228.0h0M594.9 232.4h0M590.6 230.2h0M594.7 215.8h0M582.3 229.3h0M589.5 239.9h0M604.7 232.1h0M575.7 231.4h0M586.3 219.6h0M581.1 235.7h0M575.8 222.1h0M597.2 223.4h0M592.8 243.3h0M586.1 235.1h0M599.4 225.4h0M584.4 231.4h0M588.7 213.9h0M596.3 205.1h0M589.5 227.1h0M602.0 225.4h0M593.8 226.4h0M594.7 240.9h0M603.5 214.3h0M604.6 217.5h0M598.9 248.9h0M584.8 213.4h0M597.3 218.9h0M594.5 225.2h0M613.9 223.9h0M600.0 210.1h0M591.8 239.6h0M587.6 236.3h0" stroke-width="0.40" stroke-opacity="0.6"/><path d="M612.8 229.9h0M599.1 221.7h0M601.1 231.2h0M577.2 237.8h0M598.0 220.1h0M582.9 225.1h0M599.5 235.0h0M594.9 230.5h0M604.1 217.7h0M604.8 240.3h0M588.5 216.4h0M596.8 219.7h0M596.1 249.5h0M606.8 238.0h0M597.4 234.6h0M591.8 211.4h0M593.0 243.7h0M598.6 239.6h0M579.5 214.2h0M614.3 234.7h0M579.3 218.8h0M597.8 214.6h0M585.4 230.7h0M604.1 245.3h0M578.5 225.2h0M595.6 245.2h0M589.9 223.8h0M588.8 236.3h0M575.5 218.6h0M596.5 244.1h0M599.6 207.4h0M602.0 221.8h0M579.5 218.1h0M597.4 221.7h0M593.3 216.9h0M597.7 213.8h0M574.8 239.9h0M603.8 214.9h0M584.8 227.7h0M602.4 232.0h0M577.7 210.5h0M581.3 228.8h0M575.1 213.4h0M600.3 222.9h0M586.4 216.2h0M590.4 225.8h0M579.0 228.8h0M601.8 229.7h0M589.8 230.8h0M600.8 208.2h0M598.9 218.6h0M595.3 229.7h0M603.8 224.3h0M595.8 213.4h0M588.1 230.0h0M576.0 233.8h0M606.7 236.9h0M607.3 230.8h0M594.4 222.0h0M585.1 217.6h0M600.2 229.5h0M594.0 223.1h0M587.1 237.6h0M600.7 243.3h0M593.0 238.6h0M600.7 242.4h0M596.4 230.3h0M578.6 238.1h0M585.2 217.6h0M583.1 241.8h0M600.8 224.3h0M591.7 239.1h0M608.0 235.6h0M597.2 212.1h0M591.6 216.3h0M605.6 219.1h0M599.3 216.0h0M603.0 244.0h0M611.1 230.3h0M585.5 231.9h0M584.4 234.4h0M577.0 225.6h0M598.4 215.6h0M587.2 241.8h0M588.5 221.3h0M579.9 239.9h0M599.4 216.8h0M594.5 230.8h0M585.9 219.4h0M605.6 228.6h0M602.1 241.3h0M600.2 213.7h0M598.5 222.0h0M591.9 221.1h0M584.4 222.3h0M606.6 237.6h0M571.4 219.9h0M583.5 216.7h0M583.8 226.1h0M593.9 246.1h0M597.0 228.7h0M579.6 228.7h0M583.3 233.9h0M591.2 215.6h0M605.2 224.4h0M599.8 238.1h0M574.5 225.5h0M606.7 233.3h0M594.8 236.1h0M588.1 241.0h0M571.3 229.1h0M583.8 226.5h0M587.0 227.3h0M596.1 248.1h0M590.8 213.7h0M583.4 227.5h0M598.4 240.1h0M592.7 242.7h0M579.9 214.6h0M587.0 221.4h0M593.8 230.7h0M594.7 229.2h0M599.0 237.3h0M577.7 231.7h0M585.7 212.7h0M576.1 239.3h0M585.3 229.5h0M608.5 222.3h0M588.8 226.0h0M609.0 219.2h0M602.6 215.2h0M592.7 231.1h0M590.5 229.6h0M595.7 223.9h0M579.5 236.3h0" stroke-width="0.70" stroke-opacity="0.2"/><path d="M586.4 207.1h0M581.8 238.2h0M596.3 249.6h0M594.3 226.1h0M586.5 245.0h0M601.9 212.4h0M592.3 233.5h0M609.9 215.8h0M585.4 238.0h0M596.4 243.6h0M592.0 226.1h0M573.7 223.5h0M577.7 232.3h0M594.1 223.3h0M602.9 225.4h0M594.9 211.0h0M580.3 208.7h0M595.9 233.9h0M597.1 234.5h0M581.4 228.3h0M580.5 227.1h0M608.6 217.8h0M599.6 206.6h0M603.9 246.6h0M592.6 234.6h0M589.9 222.6h0M608.8 227.9h0M583.0 217.6h0M595.4 236.7h0M598.4 232.3h0M588.2 215.9h0M584.2 225.3h0M612.1 214.0h0M594.0 217.9h0M592.1 231.3h0M594.8 218.9h0M595.5 229.4h0M580.5 221.1h0M573.4 217.1h0M571.3 230.8h0M589.4 249.4h0M612.8 232.4h0M597.2 234.8h0M600.0 224.8h0M594.5 238.9h0M581.7 222.5h0M592.4 218.7h0M579.3 229.8h0M604.8 244.4h0M592.8 230.2h0M602.9 234.7h0M596.3 217.9h0M574.7 218.2h0M606.3 237.5h0M589.7 210.0h0M593.7 232.5h0M589.8 238.8h0M599.4 240.3h0M610.0 224.9h0M593.4 243.9h0M592.8 211.8h0M608.3 214.1h0M610.1 221.2h0M598.1 219.0h0M581.2 221.9h0M601.4 235.6h0M578.2 219.6h0M606.4 239.2h0M598.3 233.0h0M591.2 244.9h0M594.8 228.7h0M608.2 220.0h0M601.0 227.3h0M592.9 220.6h0M607.3 223.8h0M579.3 226.9h0M588.5 236.5h0M597.3 236.5h0M612.2 221.3h0M590.5 216.5h0M593.7 220.9h0M572.6 227.3h0M585.3 223.2h0M606.6 215.6h0M587.5 232.8h0M599.6 205.9h0M612.3 220.4h0M593.1 224.4h0M573.4 217.7h0M583.0 211.0h0M608.0 236.7h0M601.1 231.0h0M596.2 220.3h0M608.9 229.7h0M597.9 249.2h0M595.5 241.0h0M592.8 211.4h0M596.0 225.3h0M586.7 237.4h0M579.3 228.1h0M582.7 225.2h0M615.0 222.4h0M597.1 237.5h0M591.3 234.0h0M596.1 210.6h0M588.7 219.8h0M595.5 223.3h0M613.8 235.2h0M612.1 222.6h0M589.6 216.4h0M600.0 221.7h0M603.1 230.9h0M585.5 211.6h0M571.8 219.0h0M591.8 219.8h0M603.8 232.9h0M607.9 231.1h0M594.9 243.7h0M591.1 235.6h0M605.7 237.7h0M598.3 232.3h0M594.7 211.8h0M589.9 226.3h0M595.0 222.9h0M594.8 225.4h0M586.8 217.5h0M600.8 216.4h0M584.9 227.9h0M604.3 230.9h0M613.5 220.8h0M591.9 237.3h0M614.4 228.3h0M605.7 227.7h0M591.9 211.8h0M589.9 234.4h0M587.0 221.1h0M611.6 227.8h0M570.6 225.3h0M602.0 226.4h0M597.0 233.6h0M602.4 240.0h0M596.0 232.2h0M577.5 237.7h0M596.5 230.4h0M612.4 231.4h0M604.6 232.6h0M598.6 238.0h0M594.5 236.1h0M590.4 229.3h0M578.1 212.9h0M595.1 211.2h0M573.3 225.1h0M598.6 218.3h0M602.6 217.4h0M608.6 220.8h0M600.5 227.3h0M591.0 205.8h0M599.8 211.4h0M585.5 209.6h0M579.4 235.3h0M593.7 231.3h0M611.3 218.6h0M589.3 234.3h0M580.2 224.0h0M597.7 231.1h0M598.1 224.8h0M594.6 249.0h0M588.9 240.4h0M588.7 213.6h0M590.3 212.5h0M589.8 233.5h0M606.0 228.3h0M587.1 229.5h0M592.3 237.3h0M595.9 209.9h0M604.7 232.7h0M602.4 209.1h0M589.7 223.0h0M575.5 240.3h0M590.9 224.4h0M579.6 230.5h0M615.3 225.9h0M613.4 226.6h0M575.3 238.1h0M588.3 227.3h0M584.5 220.7h0M585.9 221.6h0M596.4 224.8h0M590.2 233.3h0M587.8 235.8h0M599.1 216.4h0M584.2 243.2h0M594.3 224.5h0M602.0 214.2h0M593.9 209.3h0M585.9 246.6h0M584.8 213.8h0M606.6 210.3h0M595.9 223.2h0M586.8 227.3h0M611.8 220.6h0M594.4 222.8h0M595.7 226.6h0M591.6 238.2h0M608.4 238.8h0M598.1 219.5h0M610.4 231.1h0M600.1 223.3h0M602.4 234.1h0M596.5 214.7h0M594.1 232.5h0M612.8 238.8h0M592.9 245.9h0M599.1 222.4h0M597.7 232.6h0M600.8 207.2h0M591.8 229.6h0M597.9 243.0h0M594.0 232.4h0M590.4 235.2h0M592.9 214.8h0M593.7 248.9h0M594.9 228.1h0M589.3 241.3h0M587.9 215.1h0M594.4 234.2h0M603.3 238.3h0M584.8 229.0h0M574.0 226.2h0M580.5 240.5h0M603.6 215.4h0M608.7 233.0h0M581.8 237.4h0M604.8 241.4h0M584.4 230.8h0M614.5 219.7h0M580.4 244.2h0M597.8 219.6h0M585.8 236.5h0M582.7 238.4h0M587.6 226.8h0M588.4 234.0h0M606.8 212.5h0M592.0 223.7h0M589.6 227.6h0M604.3 218.3h0M610.4 223.2h0M590.4 218.5h0M609.3 242.8h0M602.3 214.2h0M581.0 237.9h0M599.6 223.3h0M599.6 227.0h0M596.5 216.5h0M599.0 205.9h0M590.5 225.8h0M592.2 229.6h0M603.1 213.9h0M587.5 238.9h0M601.4 240.0h0M586.3 218.4h0M589.8 240.8h0M613.2 229.5h0M582.1 233.4h0M581.6 222.8h0M585.4 215.5h0M612.8 224.9h0M585.4 240.9h0M604.1 225.5h0M594.2 234.7h0M604.5 233.3h0M588.6 224.3h0M600.8 229.8h0M602.2 245.8h0M608.1 223.2h0M589.8 221.3h0M599.9 242.8h0M591.0 225.0h0M596.4 242.0h0M580.5 243.8h0M576.9 242.0h0M581.5 212.8h0M587.4 224.8h0M596.9 220.9h0M582.4 245.5h0M596.5 211.7h0M601.9 226.4h0M601.1 230.0h0M610.8 230.5h0M583.0 210.3h0M609.0 214.5h0M606.7 238.8h0M588.7 245.2h0M612.0 222.8h0M601.2 213.7h0M596.5 231.4h0M587.3 224.1h0M605.5 230.3h0M580.8 234.1h0M593.8 228.8h0M601.8 214.2h0M606.8 234.2h0M589.2 239.1h0M603.9 210.5h0M593.7 229.3h0M584.3 230.9h0M582.7 231.8h0M605.0 219.9h0M593.4 215.8h0M590.7 226.0h0M597.1 220.6h0M598.4 245.5h0M586.7 213.5h0M595.6 214.5h0M602.1 233.3h0M601.9 241.2h0M594.2 222.1h0M587.2 240.9h0M581.2 216.7h0M585.9 241.3h0M593.7 232.3h0M611.5 232.3h0M602.5 211.6h0M591.0 236.2h0M600.5 210.3h0M587.7 234.7h0M583.5 233.7h0M593.5 216.1h0M597.5 232.2h0M595.2 223.6h0M600.1 222.2h0M591.7 243.3h0M598.6 223.2h0M593.2 232.7h0M581.4 242.8h0" stroke-width="0.70" stroke-opacity="0.4"/><path d="M595.4 235.1h0M598.0 234.2h0M594.6 235.7h0M603.7 237.2h0M601.8 233.7h0M599.6 232.7h0M585.7 234.3h0M610.8 222.5h0M574.6 219.6h0M599.6 239.3h0M601.5 230.0h0M591.0 247.7h0M602.1 205.2h0M596.4 211.0h0M595.8 238.3h0M584.3 231.0h0M598.6 217.7h0M597.0 246.3h0M584.9 217.4h0M587.6 221.9h0M603.8 233.5h0M581.2 218.4h0M592.9 209.1h0M609.9 222.0h0M607.8 231.0h0M602.2 226.8h0M574.8 229.6h0M594.6 235.2h0M602.2 235.4h0M606.1 212.3h0M575.3 231.3h0M595.6 246.6h0M595.4 233.7h0M609.2 233.2h0M589.1 234.0h0M612.7 232.8h0M597.9 213.8h0M589.2 217.8h0M587.2 220.4h0M583.3 222.4h0M587.3 245.3h0M590.0 234.5h0M588.2 230.8h0M585.0 218.0h0M589.5 237.3h0M581.5 221.1h0M579.1 234.6h0M604.8 225.3h0M608.5 235.9h0M599.4 210.5h0M589.7 240.0h0M601.7 248.1h0M608.9 226.3h0M604.9 213.7h0M581.4 217.0h0M590.4 215.1h0M581.0 237.8h0M589.6 219.5h0M588.5 209.0h0M592.1 235.2h0M600.5 228.6h0M591.4 224.9h0M585.5 224.2h0M603.3 226.0h0M586.9 232.5h0M579.8 237.9h0M591.8 228.5h0M587.1 225.3h0M611.9 237.3h0M579.2 223.7h0M600.3 219.7h0M582.0 220.5h0M580.6 216.6h0M597.1 226.4h0M600.4 211.2h0M603.0 235.0h0M581.7 238.8h0M581.6 237.0h0M579.8 224.1h0M577.5 213.9h0M574.4 229.7h0M607.2 212.3h0M585.5 221.4h0M585.8 221.1h0M597.4 225.9h0M589.5 223.0h0M600.7 240.5h0M609.2 238.1h0M581.3 207.0h0M587.8 209.2h0M599.2 246.3h0M589.5 235.1h0M585.3 235.6h0M586.6 241.2h0M591.5 249.1h0M603.3 214.0h0M606.6 221.7h0M598.0 226.0h0M602.2 216.7h0M583.0 221.9h0M603.5 221.1h0M581.9 226.0h0M589.4 246.2h0M613.7 234.9h0M599.6 209.7h0M590.3 229.8h0M586.8 230.0h0M604.2 216.7h0M608.0 214.3h0M587.2 234.7h0M603.4 217.7h0M604.6 234.5h0M587.9 221.1h0M609.9 221.4h0M604.2 232.0h0M589.2 226.8h0M587.7 237.7h0M588.2 235.8h0M600.5 232.8h0M587.0 230.9h0M585.2 220.6h0M583.0 241.9h0M583.3 223.0h0M604.1 227.8h0M579.7 225.5h0M578.1 215.6h0M594.6 214.8h0M592.9 216.3h0M599.0 212.3h0M599.4 230.4h0M603.0 236.2h0M582.9 229.7h0M592.5 214.8h0M584.1 223.5h0M586.5 217.8h0M586.5 246.8h0M596.6 227.9h0M600.4 231.5h0M577.9 221.9h0M587.8 227.3h0M595.6 230.7h0M596.3 205.2h0M603.3 228.1h0M601.9 238.4h0M583.9 226.4h0M602.5 236.7h0M589.0 232.3h0M579.4 209.6h0M597.2 233.3h0M597.3 221.3h0M598.5 218.8h0M586.0 223.1h0M602.9 222.8h0M589.8 225.3h0M590.8 224.0h0M598.9 212.8h0M611.4 239.4h0M607.2 229.0h0M591.7 224.8h0M598.7 221.3h0M579.6 208.2h0M587.2 235.2h0M595.3 235.7h0M583.3 239.0h0M571.7 233.6h0M587.9 221.2h0M587.9 216.5h0M585.5 233.3h0M588.6 223.0h0M609.4 239.1h0M580.5 224.9h0M583.5 237.8h0M605.1 225.7h0M583.7 234.9h0M588.3 224.7h0M579.1 238.6h0M586.2 230.1h0M594.9 211.1h0M587.5 231.3h0M578.4 224.1h0M584.3 216.8h0M611.6 213.1h0M572.2 235.9h0M575.8 216.5h0M612.9 222.2h0M604.1 228.7h0M585.2 230.9h0M597.8 222.0h0M600.0 246.2h0M577.2 230.7h0M605.5 227.6h0M587.5 217.4h0M590.1 223.4h0M597.2 231.8h0M598.5 226.8h0M590.1 218.0h0M600.0 226.5h0M595.3 242.4h0M614.2 229.7h0M589.0 231.8h0M584.5 234.6h0M585.6 248.3h0M601.7 240.7h0" stroke-width="0.70" stroke-opacity="0.6"/><path d="M578.3 242.6h0M592.1 222.4h0M601.0 222.7h0M594.9 245.6h0M600.7 242.3h0M575.0 224.2h0M593.0 216.3h0M588.4 219.4h0M608.2 238.5h0M584.4 210.2h0M593.2 225.9h0M572.3 235.2h0M581.7 210.1h0M592.5 204.0h0M600.4 207.6h0M593.0 247.8h0M574.7 230.4h0M602.7 212.7h0M582.7 216.4h0M598.9 229.3h0M594.3 239.9h0M591.1 233.3h0M594.0 237.0h0M588.2 229.5h0M576.2 215.1h0M596.8 214.9h0M595.5 214.1h0M586.0 242.8h0M615.7 221.1h0M586.1 241.2h0M600.3 235.6h0M581.7 217.0h0M599.8 228.4h0M582.2 236.4h0M606.4 238.6h0M577.2 216.6h0M601.5 208.8h0M585.6 231.2h0M585.1 228.3h0M588.0 211.0h0M585.2 228.9h0M603.6 219.7h0M581.4 235.8h0M583.7 223.7h0M589.6 211.5h0M605.5 226.2h0" stroke-width="1.00" stroke-opacity="0.2"/><path d="M592.9 237.3h0M598.1 227.8h0M597.8 228.2h0M607.1 244.3h0M600.0 232.5h0M582.8 227.6h0M589.7 232.5h0M594.3 236.2h0M602.1 232.0h0M593.8 233.6h0M582.5 225.0h0M575.9 223.4h0M575.3 225.0h0M576.8 234.7h0M591.7 246.5h0M592.2 224.4h0M607.2 244.1h0M582.3 243.6h0M578.9 228.8h0M604.7 234.3h0M611.4 225.6h0M595.8 221.6h0M597.7 225.3h0M588.1 235.4h0M598.1 217.7h0M603.1 233.9h0M591.2 217.5h0M592.6 221.1h0M586.4 218.8h0M574.7 216.1h0M583.8 228.0h0M587.4 244.2h0M596.7 218.5h0M589.4 221.3h0M597.5 228.7h0M586.5 218.4h0M606.6 229.1h0M599.1 224.1h0M597.2 229.8h0M583.3 229.0h0M598.1 235.1h0M606.4 218.6h0M582.7 218.7h0M612.1 221.3h0M599.8 235.2h0M587.6 224.3h0M591.7 224.9h0M582.4 218.3h0M580.9 215.2h0M583.8 224.6h0M594.9 222.5h0M604.9 239.8h0M586.1 228.1h0M587.1 221.2h0M599.8 230.0h0M606.1 239.0h0M608.7 236.4h0M601.6 222.4h0M576.3 241.2h0M597.5 242.0h0M585.7 226.2h0M583.5 217.9h0M584.1 237.2h0M596.3 206.2h0M570.5 227.3h0M611.2 229.9h0M592.4 225.8h0M599.6 240.3h0M612.6 229.0h0M600.5 219.8h0M582.0 234.7h0M584.1 222.6h0M576.7 211.5h0M604.4 212.8h0M580.6 216.9h0M602.6 212.6h0M595.6 212.6h0M583.3 218.6h0M596.1 226.5h0M585.8 244.9h0M609.9 223.1h0" stroke-width="1.00" stroke-opacity="0.4"/><path d="M608.3 222.0h0M595.8 226.7h0M603.4 226.9h0M593.7 205.0h0M593.5 220.3h0M613.8 228.3h0M595.0 219.8h0M601.0 243.5h0M606.7 213.8h0M587.4 215.7h0M596.7 207.2h0M597.1 207.0h0M593.2 245.6h0M596.7 240.9h0M587.3 225.5h0M587.7 208.2h0M594.7 231.8h0M603.6 230.7h0M599.8 235.9h0M595.9 233.1h0M576.0 221.9h0M595.0 213.9h0M599.9 246.0h0M583.2 235.7h0M597.2 208.1h0M588.2 229.8h0M610.8 235.7h0M594.7 225.7h0M592.5 236.3h0M597.1 235.8h0M590.1 221.8h0M591.2 224.0h0M611.8 238.2h0M605.3 210.5h0M604.7 223.7h0M571.9 218.7h0M583.9 236.4h0M597.7 231.3h0M573.8 228.8h0M580.8 238.1h0M588.5 220.1h0M576.0 213.7h0M595.8 246.4h0M571.2 224.3h0M580.0 239.4h0M596.3 210.6h0M585.9 231.1h0M593.6 226.8h0M582.5 220.2h0M595.3 218.5h0M576.0 234.7h0" stroke-width="1.00" stroke-opacity="0.6"/><path d="M602.5 231.8h0M594.6 242.6h0M605.5 227.2h0M591.3 219.1h0M579.5 217.4h0M604.3 238.1h0M604.0 206.1h0M593.6 244.6h0M580.3 231.1h0M612.9 230.5h0M598.9 222.6h0" stroke-width="1.30" stroke-opacity="0.2"/><path d="M592.9 225.2h0M584.5 231.2h0M583.2 229.7h0M611.5 218.3h0M606.8 220.1h0M601.4 206.4h0M601.8 228.4h0M577.4 228.9h0M607.9 226.4h0M576.8 228.9h0M598.0 227.0h0M584.7 211.8h0M578.7 239.5h0M580.6 219.7h0M596.5 227.1h0M599.7 226.5h0M606.2 240.6h0M588.6 224.7h0" stroke-width="1.30" stroke-opacity="0.4"/><path d="M581.4 235.7h0M601.2 207.2h0M581.1 232.8h0M615.3 228.9h0M598.6 221.8h0M590.6 226.7h0M580.8 237.3h0M603.6 225.3h0M590.2 221.3h0M594.5 230.4h0M595.0 227.1h0" stroke-width="1.30" stroke-opacity="0.6"/><path d="M594.5 236.3h0" stroke-width="1.60" stroke-opacity="0.2"/><path d="M585.2 230.1h0M582.7 228.1h0" stroke-width="1.60" stroke-opacity="0.4"/><path d="M585.9 235.5h0M583.4 228.5h0" stroke-width="1.60" stroke-opacity="0.6"/></g>
<circle cx="644.3" cy="226.7" r="23.9" fill="rgb(253,253,253)" stroke="rgba(0,0,0,0.2)" stroke-width="1.2"/>
<g filter="url(#bl2)"><path d="M621.50,220.59 A23.599999999999998,23.599999999999998 0 0 1 642.24,203.19" fill="none" stroke="rgba(0,0,0,0.4)" stroke-width="1.1" stroke-linecap="round"/></g>
<g filter="url(#bl)" stroke="#000" stroke-linecap="round" fill="none"><path d="M642.9 229.9h0M634.3 224.7h0M642.9 215.6h0M639.8 234.6h0M641.7 227.8h0M648.3 210.7h0M646.1 228.4h0M643.2 211.8h0M649.8 242.1h0M637.7 225.3h0M644.7 213.8h0M628.0 227.7h0M640.7 217.9h0M638.3 231.5h0M650.6 225.0h0M647.0 244.0h0M661.6 229.9h0M635.9 232.5h0M630.4 227.0h0M642.7 245.8h0M638.3 231.3h0M651.8 220.8h0M626.4 232.6h0M643.0 239.5h0M634.0 244.8h0M650.0 237.0h0M641.3 235.2h0M646.7 242.2h0" stroke-width="0.40" stroke-opacity="0.2"/><path d="M656.3 224.1h0M626.8 225.4h0M659.7 219.0h0M625.2 235.8h0M656.6 239.8h0M647.4 219.1h0M622.8 230.1h0M640.6 232.1h0M638.8 219.2h0M635.5 246.5h0M647.9 217.7h0M625.2 220.5h0M656.0 215.1h0M636.0 226.8h0M658.8 225.8h0M661.0 229.5h0M626.1 240.3h0M640.1 213.2h0M659.2 211.4h0M646.1 226.2h0M647.5 228.6h0M659.5 223.0h0M648.9 224.0h0M627.0 227.6h0M624.1 235.9h0M646.3 216.5h0M637.1 221.9h0M642.6 234.6h0M660.1 233.3h0M648.8 218.2h0M650.0 222.2h0M646.3 225.6h0M641.5 206.8h0M643.4 207.5h0M632.6 240.7h0M644.6 219.8h0M636.2 231.4h0M641.6 235.8h0M665.2 235.9h0M664.1 221.0h0M654.3 238.1h0M643.3 220.1h0" stroke-width="0.40" stroke-opacity="0.4"/><path d="M631.8 213.0h0M629.5 236.3h0M649.0 232.1h0M631.9 237.9h0M654.6 210.4h0M652.6 223.0h0M652.6 226.2h0M653.3 213.3h0M624.6 221.5h0M642.4 245.2h0M641.3 245.2h0" stroke-width="0.40" stroke-opacity="0.6"/><path d="M652.4 222.4h0M656.5 238.7h0M649.6 221.2h0M636.1 229.7h0M621.9 229.3h0M665.2 222.4h0M644.6 228.2h0M645.0 220.8h0M642.0 237.6h0M643.5 222.7h0M649.2 226.9h0M652.8 218.0h0M631.4 215.4h0M660.0 223.6h0M652.5 223.3h0M647.6 225.7h0M651.9 225.5h0M624.3 222.2h0" stroke-width="0.70" stroke-opacity="0.2"/><path d="M649.2 247.5h0M639.2 226.5h0M651.0 215.7h0M646.2 218.3h0M647.2 218.3h0M643.0 219.6h0M646.6 234.0h0M641.2 230.7h0M644.2 235.3h0M646.9 220.5h0M635.1 218.1h0M651.5 206.5h0M630.9 213.9h0M631.3 230.0h0M663.9 237.9h0M654.0 234.9h0M653.2 231.6h0M636.2 216.7h0M664.3 217.9h0M641.8 230.7h0M649.2 232.8h0M651.1 222.4h0M659.2 222.3h0M646.9 223.3h0M653.5 220.9h0M641.3 224.1h0M658.3 238.0h0M644.2 229.0h0M644.4 215.4h0M648.9 212.5h0M645.9 235.9h0" stroke-width="0.70" stroke-opacity="0.4"/><path d="M625.4 229.2h0M639.2 230.7h0M625.2 235.1h0M648.7 228.8h0M657.8 229.2h0M641.3 243.8h0M638.9 206.6h0M633.2 222.2h0M653.5 241.3h0M627.9 222.9h0" stroke-width="0.70" stroke-opacity="0.6"/><path d="M643.2 223.5h0M652.3 221.6h0M627.3 233.8h0M649.8 229.1h0M638.5 221.6h0M637.9 236.0h0" stroke-width="1.00" stroke-opacity="0.2"/><path d="M638.6 218.6h0M643.4 216.2h0M648.3 223.5h0M652.6 228.8h0M636.7 222.3h0M637.7 229.9h0M631.6 210.2h0M655.2 227.2h0M633.2 231.4h0M642.8 239.7h0M631.3 222.5h0M638.2 238.3h0M649.1 217.6h0M643.0 219.6h0M642.0 224.2h0M649.3 236.3h0" stroke-width="1.00" stroke-opacity="0.4"/><path d="M641.5 230.8h0M661.4 213.7h0M639.3 219.6h0M643.8 222.5h0M629.3 227.2h0" stroke-width="1.00" stroke-opacity="0.6"/><path d="M633.6 229.9h0" stroke-width="1.30" stroke-opacity="0.2"/><path d="M663.2 232.0h0" stroke-width="1.30" stroke-opacity="0.4"/><path d="M639.0 215.7h0" stroke-width="1.30" stroke-opacity="0.6"/></g>
<rect x="515.9" y="26.70" width="155.9" height="52.00" fill="none" stroke="#ff1414" stroke-width="2.2"/>
<rect x="515.9" y="83.00" width="155.9" height="53.90" fill="none" stroke="#ff1414" stroke-width="2.2"/>
<rect x="515.9" y="141.10" width="155.9" height="53.10" fill="none" stroke="#3b73c6" stroke-width="2.2"/>
<rect x="515.9" y="200.00" width="155.9" height="53.60" fill="none" stroke="#3b73c6" stroke-width="2.2"/>
<line x1="99.1" y1="289.4" x2="99.1" y2="400" stroke="#111" stroke-width="1.8"/>
<line x1="98.2" y1="399.1" x2="334.8" y2="399.1" stroke="#111" stroke-width="1.8"/>
<line x1="94.1" y1="299.6" x2="99" y2="299.6" stroke="#111" stroke-width="1.3"/>
<text x="76.85" y="303.5" font-size="10.8" font-weight="bold" fill="#111" textLength="16.58" lengthAdjust="spacingAndGlyphs" stroke="#111" stroke-width="0.25">100</text>
<line x1="94.1" y1="349.4" x2="99" y2="349.4" stroke="#111" stroke-width="1.3"/>
<text x="82.20" y="353.3" font-size="10.8" font-weight="bold" fill="#111" textLength="11.23" lengthAdjust="spacingAndGlyphs" stroke="#111" stroke-width="0.25">50</text>
<line x1="94.1" y1="399.2" x2="99" y2="399.2" stroke="#111" stroke-width="1.3"/>
<text x="87.80" y="403.1" font-size="10.8" font-weight="bold" fill="#111" textLength="5.62" lengthAdjust="spacingAndGlyphs" stroke="#111" stroke-width="0.25">0</text>
<line x1="96.2" y1="324.5" x2="99" y2="324.5" stroke="#111" stroke-width="1.2"/>
<line x1="96.2" y1="374.3" x2="99" y2="374.3" stroke="#111" stroke-width="1.2"/>
<text transform="translate(61.2,374.08) rotate(-90)" font-size="9.9" font-weight="bold" fill="#111" textLength="62.01" lengthAdjust="spacingAndGlyphs" stroke="#111" stroke-width="0.25">Proliferation</text>
<text transform="translate(71.8,402.26) rotate(-90)" font-size="9.9" font-weight="bold" fill="#111" textLength="118.94" lengthAdjust="spacingAndGlyphs" stroke="#111" stroke-width="0.25">%Non-Targeting control</text>
<rect x="104.9" y="299.6" width="9.9" height="99.5" fill="#333333" stroke="#111" stroke-width="1"/>
<circle cx="106.4" cy="301.0" r="2.1" fill="#fff" stroke="#111" stroke-width="1"/><circle cx="109.9" cy="297.8" r="2.1" fill="#fff" stroke="#111" stroke-width="1"/><circle cx="113.5" cy="299.1" r="2.1" fill="#fff" stroke="#111" stroke-width="1"/>
<rect x="121.5" y="374.4" width="10.0" height="24.7" fill="#a3a3a3" stroke="#111" stroke-width="1"/>
<rect x="120.6" y="374.6" width="4.2" height="4.2" fill="#fff" stroke="#111" stroke-width="1"/><rect x="125.2" y="369.5" width="4.2" height="4.2" fill="#fff" stroke="#111" stroke-width="1"/><rect x="127.8" y="370.8" width="4.2" height="4.2" fill="#fff" stroke="#111" stroke-width="1"/>
<rect x="137.7" y="372.2" width="9.7" height="26.9" fill="#ffffff" stroke="#111" stroke-width="1"/>
<line x1="142.6" y1="367.3" x2="142.6" y2="372.2" stroke="#111" stroke-width="1"/>
<line x1="139.4" y1="367.3" x2="145.8" y2="367.3" stroke="#111" stroke-width="1.1"/>
<polygon points="139.2,366.9 136.7,371.3 141.7,371.3" fill="#fff" stroke="#111" stroke-width="1"/><polygon points="146.3,367.8 143.8,372.2 148.8,372.2" fill="#fff" stroke="#111" stroke-width="1"/><polygon points="142.2,373.6 139.7,378.0 144.7,378.0" fill="#fff" stroke="#111" stroke-width="1"/>
<rect x="164.7" y="300.0" width="10.2" height="99.1" fill="#333333" stroke="#111" stroke-width="1"/>
<line x1="169.8" y1="295.4" x2="169.8" y2="300.0" stroke="#111" stroke-width="1"/>
<line x1="166.6" y1="295.4" x2="173.0" y2="295.4" stroke="#111" stroke-width="1.1"/>
<circle cx="166.4" cy="301.9" r="2.1" fill="#fff" stroke="#111" stroke-width="1"/><circle cx="173.5" cy="301.1" r="2.1" fill="#fff" stroke="#111" stroke-width="1"/><circle cx="169.9" cy="295.4" r="2.1" fill="#fff" stroke="#111" stroke-width="1"/>
<rect x="181.5" y="392.8" width="9.6" height="6.3" fill="#a3a3a3" stroke="#111" stroke-width="1"/>
<rect x="180.5" y="391.9" width="4.2" height="4.2" fill="#fff" stroke="#111" stroke-width="1"/><rect x="184.0" y="389.2" width="4.2" height="4.2" fill="#fff" stroke="#111" stroke-width="1"/><rect x="187.8" y="391.9" width="4.2" height="4.2" fill="#fff" stroke="#111" stroke-width="1"/>
<rect x="198.0" y="398.0" width="9.3" height="1.1" fill="#ffffff" stroke="#111" stroke-width="1"/>
<polygon points="198.9,394.6 196.4,399.0 201.4,399.0" fill="#fff" stroke="#111" stroke-width="1"/><polygon points="202.5,394.0 200.0,398.4 205.0,398.4" fill="#fff" stroke="#111" stroke-width="1"/><polygon points="206.1,394.6 203.6,399.0 208.6,399.0" fill="#fff" stroke="#111" stroke-width="1"/>
<rect x="224.9" y="300.4" width="10.2" height="98.7" fill="#333333" stroke="#111" stroke-width="1"/>
<line x1="230.0" y1="294.6" x2="230.0" y2="300.4" stroke="#111" stroke-width="1"/>
<line x1="226.8" y1="294.6" x2="233.2" y2="294.6" stroke="#111" stroke-width="1.1"/>
<circle cx="226.8" cy="303.1" r="2.1" fill="#fff" stroke="#111" stroke-width="1"/><circle cx="233.3" cy="300.7" r="2.1" fill="#fff" stroke="#111" stroke-width="1"/><circle cx="230.0" cy="294.6" r="2.1" fill="#fff" stroke="#111" stroke-width="1"/>
<rect x="241.3" y="301.0" width="10.3" height="98.1" fill="#a3a3a3" stroke="#111" stroke-width="1"/>
<line x1="246.4" y1="296.3" x2="246.4" y2="301.0" stroke="#111" stroke-width="1"/>
<line x1="243.2" y1="296.3" x2="249.6" y2="296.3" stroke="#111" stroke-width="1.1"/>
<rect x="240.8" y="301.2" width="4.2" height="4.2" fill="#fff" stroke="#111" stroke-width="1"/><rect x="244.4" y="294.2" width="4.2" height="4.2" fill="#fff" stroke="#111" stroke-width="1"/><rect x="247.6" y="299.0" width="4.2" height="4.2" fill="#fff" stroke="#111" stroke-width="1"/>
<rect x="257.8" y="384.4" width="10.6" height="14.7" fill="#ffffff" stroke="#111" stroke-width="1"/>
<line x1="263.1" y1="374.3" x2="263.1" y2="384.4" stroke="#111" stroke-width="1"/>
<line x1="259.9" y1="374.3" x2="266.3" y2="374.3" stroke="#111" stroke-width="1.1"/>
<polygon points="259.0,385.9 256.5,390.3 261.5,390.3" fill="#fff" stroke="#111" stroke-width="1"/><polygon points="266.6,385.9 264.1,390.3 269.1,390.3" fill="#fff" stroke="#111" stroke-width="1"/><polygon points="262.6,373.4 260.1,377.8 265.1,377.8" fill="#fff" stroke="#111" stroke-width="1"/>
<rect x="285.0" y="300.0" width="10.1" height="99.1" fill="#333333" stroke="#111" stroke-width="1"/>
<circle cx="286.4" cy="299.2" r="2.1" fill="#fff" stroke="#111" stroke-width="1"/><circle cx="290.0" cy="298.0" r="2.1" fill="#fff" stroke="#111" stroke-width="1"/><circle cx="293.8" cy="298.8" r="2.1" fill="#fff" stroke="#111" stroke-width="1"/>
<rect x="301.5" y="301.4" width="10.3" height="97.7" fill="#a3a3a3" stroke="#111" stroke-width="1"/>
<rect x="301.2" y="300.8" width="4.2" height="4.2" fill="#fff" stroke="#111" stroke-width="1"/><rect x="308.0" y="300.8" width="4.2" height="4.2" fill="#fff" stroke="#111" stroke-width="1"/><rect x="304.5" y="306.6" width="4.2" height="4.2" fill="#fff" stroke="#111" stroke-width="1"/>
<rect x="317.8" y="372.4" width="10.4" height="26.7" fill="#ffffff" stroke="#111" stroke-width="1"/>
<polygon points="319.8,371.2 317.3,375.6 322.3,375.6" fill="#fff" stroke="#111" stroke-width="1"/><polygon points="323.3,369.2 320.8,373.6 325.8,373.6" fill="#fff" stroke="#111" stroke-width="1"/><polygon points="326.6,370.2 324.1,374.6 329.1,374.6" fill="#fff" stroke="#111" stroke-width="1"/>
<line x1="126.0" y1="399" x2="126.0" y2="403.4" stroke="#111" stroke-width="1.3"/>
<text x="101.36" y="414.4" font-size="10.1" font-weight="bold" fill="#111" textLength="49.46" lengthAdjust="spacingAndGlyphs" stroke="#111" stroke-width="0.25">NCI-H1650</text>
<line x1="186.1" y1="399" x2="186.1" y2="403.4" stroke="#111" stroke-width="1.3"/>
<text x="161.36" y="414.4" font-size="10.1" font-weight="bold" fill="#111" textLength="49.20" lengthAdjust="spacingAndGlyphs" stroke="#111" stroke-width="0.25">NCI-H1703</text>
<line x1="246.2" y1="399" x2="246.2" y2="403.4" stroke="#111" stroke-width="1.3"/>
<text x="224.47" y="414.4" font-size="10.1" font-weight="bold" fill="#111" textLength="42.93" lengthAdjust="spacingAndGlyphs" stroke="#111" stroke-width="0.25">NCI-H838</text>
<line x1="306.4" y1="399" x2="306.4" y2="403.4" stroke="#111" stroke-width="1.3"/>
<text x="281.87" y="414.4" font-size="10.1" font-weight="bold" fill="#111" textLength="48.50" lengthAdjust="spacingAndGlyphs" stroke="#111" stroke-width="0.25">NCI-H1944</text>
<rect x="99.6" y="428.5" width="10" height="7.4" fill="#333" stroke="#111" stroke-width="1"/>
<text x="115.53" y="435.6" font-size="10.4" font-weight="normal" fill="#1a1a1a" textLength="60.51" lengthAdjust="spacingAndGlyphs" stroke="#1a1a1a" stroke-width="0.15">Non-Targeting</text>
<rect x="187.4" y="428.5" width="10" height="7.4" fill="#a3a3a3" stroke="#111" stroke-width="1"/>
<text x="203.55" y="435.6" font-size="10.4" font-weight="normal" fill="#1a1a1a" textLength="43.04" lengthAdjust="spacingAndGlyphs" stroke="#1a1a1a" stroke-width="0.15">XRN1 KO</text>
<rect x="258.6" y="428.5" width="10" height="7.4" fill="#fff" stroke="#111" stroke-width="1"/>
<text x="273.82" y="435.6" font-size="10.4" font-weight="normal" fill="#1a1a1a" textLength="54.14" lengthAdjust="spacingAndGlyphs" stroke="#1a1a1a" stroke-width="0.15">POL2RL KO</text>
<line x1="498.2" y1="277.2" x2="498.2" y2="393.8" stroke="#111" stroke-width="1.8"/>
<line x1="497.3" y1="392.9" x2="629.6" y2="392.9" stroke="#111" stroke-width="1.8"/>
<line x1="493.6" y1="277.2" x2="498" y2="277.2" stroke="#111" stroke-width="1.3"/>
<text x="482.56" y="280.8" font-size="9.8" font-weight="bold" fill="#111" textLength="10.64" lengthAdjust="spacingAndGlyphs" stroke="#111" stroke-width="0.25">30</text>
<line x1="493.6" y1="315.8" x2="498" y2="315.8" stroke="#111" stroke-width="1.3"/>
<text x="482.46" y="319.4" font-size="9.8" font-weight="bold" fill="#111" textLength="10.75" lengthAdjust="spacingAndGlyphs" stroke="#111" stroke-width="0.25">20</text>
<line x1="493.6" y1="354.4" x2="498" y2="354.4" stroke="#111" stroke-width="1.3"/>
<text x="482.15" y="358.0" font-size="9.8" font-weight="bold" fill="#111" textLength="11.07" lengthAdjust="spacingAndGlyphs" stroke="#111" stroke-width="0.25">10</text>
<line x1="493.6" y1="393.0" x2="498" y2="393.0" stroke="#111" stroke-width="1.3"/>
<text x="487.60" y="396.6" font-size="9.8" font-weight="bold" fill="#111" textLength="5.62" lengthAdjust="spacingAndGlyphs" stroke="#111" stroke-width="0.25">0</text>
<line x1="495.6" y1="296.5" x2="498" y2="296.5" stroke="#111" stroke-width="1.2"/>
<line x1="495.6" y1="335.1" x2="498" y2="335.1" stroke="#111" stroke-width="1.2"/>
<line x1="495.6" y1="373.7" x2="498" y2="373.7" stroke="#111" stroke-width="1.2"/>
<text transform="translate(467.4,378.98) rotate(-90)" font-size="9.9" font-weight="bold" fill="#111" textLength="90.21" lengthAdjust="spacingAndGlyphs" stroke="#111" stroke-width="0.25">Fold Change Over</text>
<text transform="translate(477.6,380.23) rotate(-90)" font-size="9.9" font-weight="bold" fill="#111" textLength="94.21" lengthAdjust="spacingAndGlyphs" stroke="#111" stroke-width="0.25">Uninfected Control</text>
<rect x="507.5" y="382.0" width="16.9" height="10.9" fill="#333333" stroke="#111" stroke-width="1"/>
<circle cx="509.0" cy="382.0" r="2.1" fill="#fff" stroke="#111" stroke-width="1"/><circle cx="515.8" cy="381.1" r="2.1" fill="#777" stroke="#111" stroke-width="1"/><circle cx="522.8" cy="382.0" r="2.1" fill="#fff" stroke="#111" stroke-width="1"/>
<rect x="533.5" y="303.1" width="16.9" height="89.8" fill="#7f7f7f" stroke="#111" stroke-width="1"/>
<line x1="542.0" y1="298.9" x2="542.0" y2="303.1" stroke="#111" stroke-width="1"/>
<line x1="537.8" y1="298.9" x2="546.2" y2="298.9" stroke="#111" stroke-width="1.2"/>
<rect x="536.1" y="304.2" width="4.2" height="4.2" fill="#888" stroke="#111" stroke-width="1"/><rect x="543.8" y="302.6" width="4.2" height="4.2" fill="#888" stroke="#111" stroke-width="1"/><rect x="539.8" y="296.8" width="4.2" height="4.2" fill="#fff" stroke="#111" stroke-width="1"/>
<rect x="577.6" y="372.1" width="16.4" height="20.8" fill="#333333" stroke="#111" stroke-width="1"/>
<line x1="581.8" y1="372.2" x2="589.7" y2="372.2" stroke="#111" stroke-width="1.1"/>
<circle cx="581.8" cy="372.9" r="2.1" fill="#555" stroke="#111" stroke-width="1"/><circle cx="589.7" cy="371.3" r="2.1" fill="#fff" stroke="#111" stroke-width="1"/>
<rect x="603.8" y="371.3" width="16.4" height="21.6" fill="#7f7f7f" stroke="#111" stroke-width="1"/>
<line x1="612.0" y1="367.6" x2="612.0" y2="371.3" stroke="#111" stroke-width="1"/>
<line x1="607.8" y1="367.6" x2="616.2" y2="367.6" stroke="#111" stroke-width="1.2"/>
<rect x="609.8" y="371.5" width="4.2" height="4.2" fill="#888" stroke="#111" stroke-width="1"/><rect x="609.8" y="367.5" width="4.2" height="4.2" fill="#fff" stroke="#111" stroke-width="1"/>
<line x1="528.9" y1="393" x2="528.9" y2="397.7" stroke="#111" stroke-width="1.3"/>
<text x="504.68" y="408.8" font-size="10.0" font-weight="bold" fill="#111" textLength="47.47" lengthAdjust="spacingAndGlyphs" stroke="#111" stroke-width="0.25">NCI-H1703</text>
<line x1="598.4" y1="393" x2="598.4" y2="397.7" stroke="#111" stroke-width="1.3"/>
<text x="577.18" y="408.8" font-size="10.0" font-weight="bold" fill="#111" textLength="42.31" lengthAdjust="spacingAndGlyphs" stroke="#111" stroke-width="0.25">NCI-H838</text>
<rect x="497.4" y="423.4" width="9" height="6" fill="#333" stroke="#111" stroke-width="1"/>
<text x="512.03" y="429.7" font-size="10.5" font-weight="normal" fill="#1a1a1a" textLength="60.41" lengthAdjust="spacingAndGlyphs" stroke="#1a1a1a" stroke-width="0.15">Non-Targeting</text>
<rect x="579.8" y="423.4" width="9" height="6" fill="#808080" stroke="#111" stroke-width="1"/>
<text x="594.36" y="429.7" font-size="10.5" font-weight="normal" fill="#1a1a1a" textLength="41.92" lengthAdjust="spacingAndGlyphs" stroke="#1a1a1a" stroke-width="0.15">XRN1 KO</text>
</svg>
</body></html>
